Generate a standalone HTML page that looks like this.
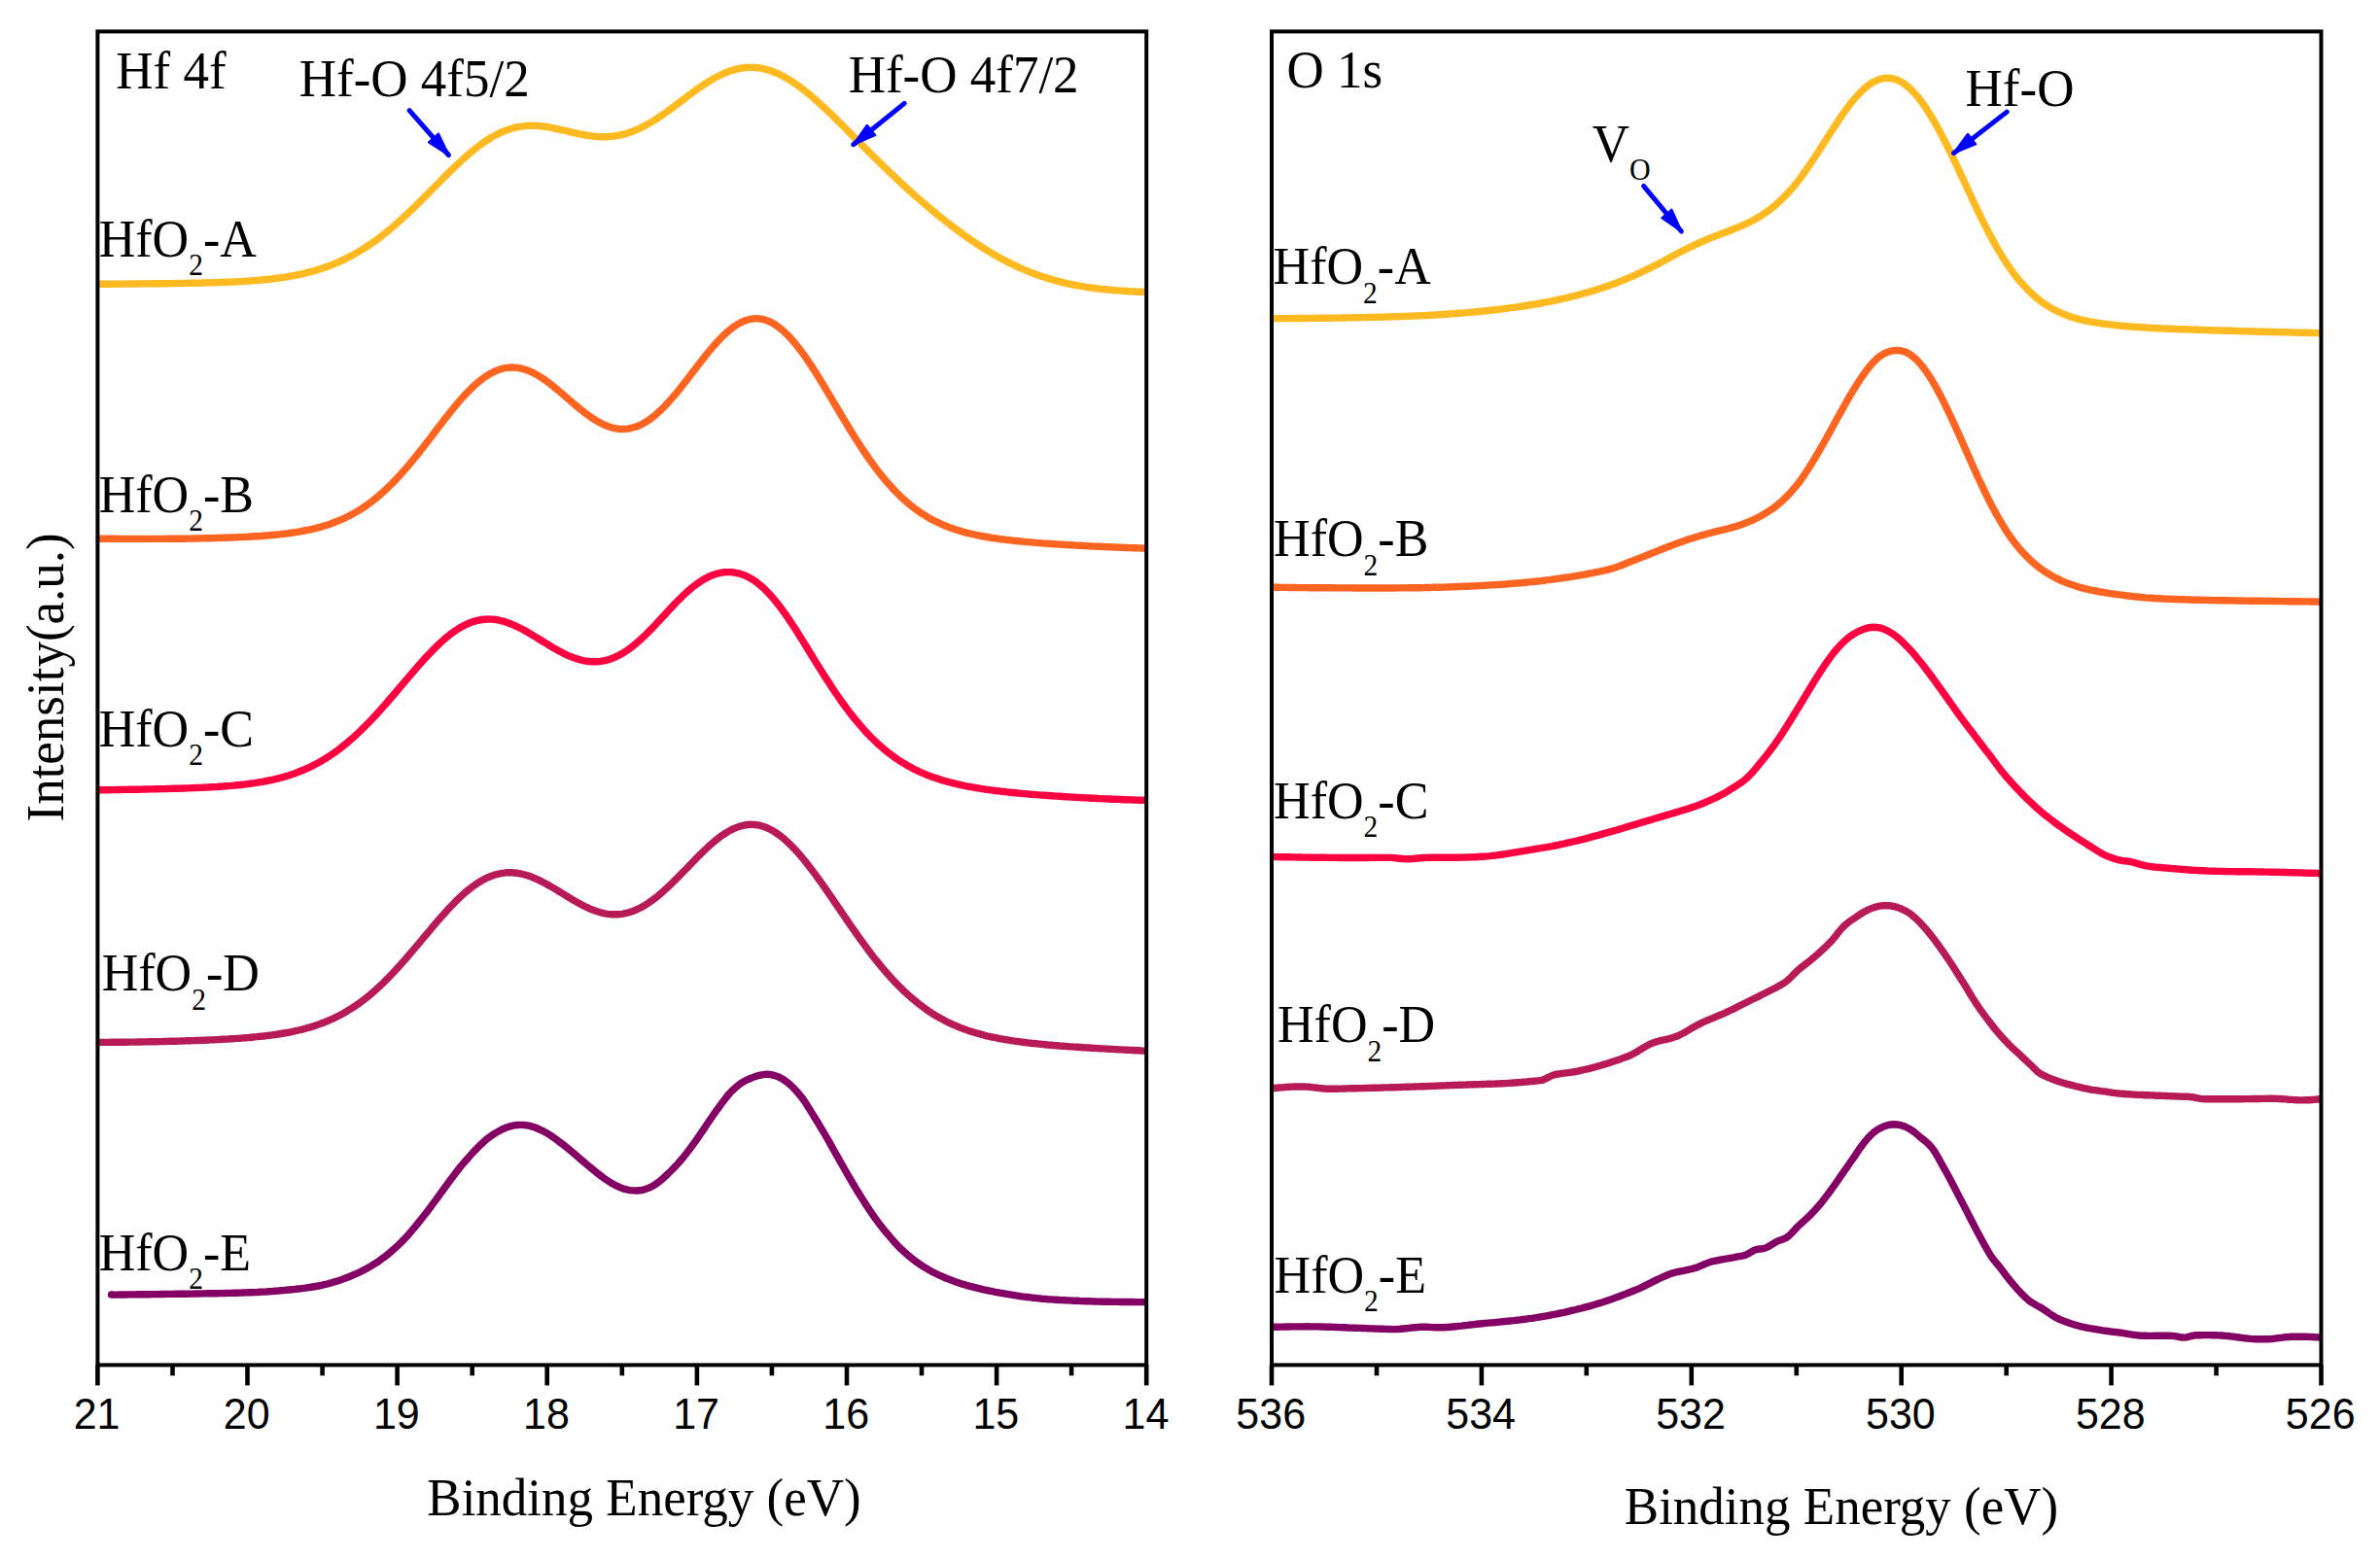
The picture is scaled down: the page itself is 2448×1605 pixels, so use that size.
<!DOCTYPE html>
<html lang="en"><head><meta charset="utf-8"><title>XPS spectra</title>
<style>html,body{margin:0;padding:0;background:#fff}svg{display:block}.s{font-family:"Liberation Serif","Times New Roman",serif;fill:#000}.a{font-family:"Liberation Sans",Arial,sans-serif;fill:#000;text-anchor:middle}</style></head><body>
<svg xmlns="http://www.w3.org/2000/svg" width="2448" height="1605" viewBox="0 0 2448 1605">
<rect width="2448" height="1605" fill="#fff"/>
<g fill="none" stroke-width="7.4" stroke-linejoin="round" stroke-linecap="butt">
<path d="M100.0,292.2 L103.0,292.2 L106.0,292.2 L109.0,292.2 L112.0,292.2 L115.0,292.2 L118.0,292.1 L121.0,292.1 L124.1,292.1 L127.1,292.1 L130.1,292.1 L133.1,292.0 L136.1,292.0 L139.1,292.0 L142.1,292.0 L145.1,291.9 L148.1,291.9 L151.1,291.9 L154.1,291.9 L157.1,291.8 L160.1,291.8 L163.1,291.8 L166.2,291.7 L169.2,291.7 L172.2,291.7 L175.2,291.6 L178.2,291.6 L181.2,291.5 L184.2,291.5 L187.2,291.4 L190.2,291.4 L193.2,291.4 L196.2,291.3 L199.2,291.2 L202.2,291.2 L205.2,291.1 L208.3,291.0 L211.3,291.0 L214.3,290.9 L217.3,290.8 L220.3,290.7 L223.3,290.6 L226.3,290.5 L229.3,290.4 L232.3,290.3 L235.3,290.2 L238.3,290.1 L241.3,289.9 L244.3,289.8 L247.3,289.6 L250.3,289.4 L253.4,289.3 L256.4,289.1 L259.4,288.8 L262.4,288.6 L265.4,288.4 L268.4,288.1 L271.4,287.8 L274.4,287.5 L277.4,287.2 L280.4,286.9 L283.4,286.5 L286.4,286.1 L289.4,285.7 L292.4,285.2 L295.5,284.8 L298.5,284.2 L301.5,283.7 L304.5,283.1 L307.5,282.5 L310.5,281.9 L313.5,281.2 L316.5,280.4 L319.5,279.6 L322.5,278.8 L325.5,277.9 L328.5,277.0 L331.5,276.0 L334.5,275.0 L337.6,273.9 L340.6,272.8 L343.6,271.6 L346.6,270.3 L349.6,269.0 L352.6,267.6 L355.6,266.2 L358.6,264.6 L361.6,263.1 L364.6,261.4 L367.6,259.7 L370.6,257.9 L373.6,256.1 L376.6,254.1 L379.6,252.1 L382.7,250.1 L385.7,247.9 L388.7,245.7 L391.7,243.5 L394.7,241.1 L397.7,238.7 L400.7,236.3 L403.7,233.7 L406.7,231.1 L409.7,228.5 L412.7,225.8 L415.7,223.0 L418.7,220.2 L421.7,217.4 L424.8,214.5 L427.8,211.6 L430.8,208.6 L433.8,205.6 L436.8,202.6 L439.8,199.6 L442.8,196.6 L445.8,193.5 L448.8,190.5 L451.8,187.5 L454.8,184.4 L457.8,181.4 L460.8,178.4 L463.8,175.5 L466.8,172.6 L469.9,169.7 L472.9,166.9 L475.9,164.1 L478.9,161.4 L481.9,158.8 L484.9,156.2 L487.9,153.8 L490.9,151.4 L493.9,149.1 L496.9,147.0 L499.9,144.9 L502.9,143.0 L505.9,141.1 L508.9,139.4 L512.0,137.9 L515.0,136.4 L518.0,135.1 L521.0,133.9 L524.0,132.9 L527.0,132.0 L530.0,131.2 L533.0,130.6 L536.0,130.1 L539.0,129.7 L542.0,129.4 L545.0,129.3 L548.0,129.3 L551.0,129.4 L554.1,129.6 L557.1,129.9 L560.1,130.2 L563.1,130.7 L566.1,131.2 L569.1,131.8 L572.1,132.4 L575.1,133.1 L578.1,133.8 L581.1,134.5 L584.1,135.2 L587.1,135.9 L590.1,136.6 L593.1,137.2 L596.1,137.9 L599.2,138.5 L602.2,139.0 L605.2,139.5 L608.2,139.9 L611.2,140.2 L614.2,140.5 L617.2,140.7 L620.2,140.7 L623.2,140.7 L626.2,140.5 L629.2,140.3 L632.2,139.9 L635.2,139.5 L638.2,138.9 L641.3,138.1 L644.3,137.3 L647.3,136.4 L650.3,135.3 L653.3,134.1 L656.3,132.8 L659.3,131.4 L662.3,129.9 L665.3,128.3 L668.3,126.6 L671.3,124.8 L674.3,122.9 L677.3,121.0 L680.3,118.9 L683.4,116.8 L686.4,114.7 L689.4,112.5 L692.4,110.3 L695.4,108.0 L698.4,105.8 L701.4,103.5 L704.4,101.2 L707.4,98.9 L710.4,96.7 L713.4,94.5 L716.4,92.3 L719.4,90.2 L722.4,88.1 L725.4,86.1 L728.5,84.2 L731.5,82.4 L734.5,80.6 L737.5,79.0 L740.5,77.5 L743.5,76.0 L746.5,74.7 L749.5,73.6 L752.5,72.6 L755.5,71.7 L758.5,70.9 L761.5,70.3 L764.5,69.8 L767.5,69.5 L770.6,69.4 L773.6,69.4 L776.6,69.5 L779.6,69.8 L782.6,70.2 L785.6,70.8 L788.6,71.6 L791.6,72.5 L794.6,73.5 L797.6,74.7 L800.6,76.0 L803.6,77.5 L806.6,79.1 L809.6,80.8 L812.7,82.6 L815.7,84.5 L818.7,86.6 L821.7,88.7 L824.7,91.0 L827.7,93.3 L830.7,95.7 L833.7,98.2 L836.7,100.8 L839.7,103.4 L842.7,106.1 L845.7,108.9 L848.7,111.7 L851.7,114.5 L854.7,117.4 L857.8,120.3 L860.8,123.3 L863.8,126.3 L866.8,129.2 L869.8,132.3 L872.8,135.3 L875.8,138.3 L878.8,141.3 L881.8,144.3 L884.8,147.4 L887.8,150.4 L890.8,153.4 L893.8,156.4 L896.8,159.4 L899.9,162.4 L902.9,165.3 L905.9,168.3 L908.9,171.2 L911.9,174.1 L914.9,177.0 L917.9,179.8 L920.9,182.7 L923.9,185.5 L926.9,188.3 L929.9,191.1 L932.9,193.8 L935.9,196.5 L938.9,199.2 L941.9,201.9 L945.0,204.5 L948.0,207.1 L951.0,209.7 L954.0,212.3 L957.0,214.8 L960.0,217.3 L963.0,219.8 L966.0,222.3 L969.0,224.7 L972.0,227.1 L975.0,229.4 L978.0,231.7 L981.0,234.0 L984.0,236.3 L987.1,238.5 L990.1,240.7 L993.1,242.9 L996.1,245.0 L999.1,247.1 L1002.1,249.1 L1005.1,251.1 L1008.1,253.1 L1011.1,255.0 L1014.1,256.9 L1017.1,258.7 L1020.1,260.5 L1023.1,262.3 L1026.1,264.0 L1029.2,265.7 L1032.2,267.3 L1035.2,268.9 L1038.2,270.4 L1041.2,271.9 L1044.2,273.3 L1047.2,274.7 L1050.2,276.1 L1053.2,277.4 L1056.2,278.6 L1059.2,279.9 L1062.2,281.0 L1065.2,282.2 L1068.2,283.2 L1071.2,284.3 L1074.3,285.3 L1077.3,286.2 L1080.3,287.1 L1083.3,288.0 L1086.3,288.8 L1089.3,289.6 L1092.3,290.4 L1095.3,291.1 L1098.3,291.8 L1101.3,292.4 L1104.3,293.0 L1107.3,293.6 L1110.3,294.2 L1113.3,294.7 L1116.4,295.2 L1119.4,295.6 L1122.4,296.0 L1125.4,296.5 L1128.4,296.8 L1131.4,297.2 L1134.4,297.5 L1137.4,297.8 L1140.4,298.1 L1143.4,298.4 L1146.4,298.7 L1149.4,298.9 L1152.4,299.1 L1155.4,299.3 L1158.5,299.5 L1161.5,299.7 L1164.5,299.9 L1167.5,300.0 L1170.5,300.2 L1173.5,300.3 L1176.5,300.4 L1179.5,300.5" stroke="#FFBA22"/>
<path d="M100.0,554.2 L103.0,554.2 L106.0,554.3 L109.0,554.3 L112.0,554.3 L115.0,554.3 L118.0,554.3 L121.0,554.4 L124.0,554.4 L127.0,554.4 L130.0,554.4 L133.0,554.4 L136.0,554.4 L139.0,554.4 L142.0,554.4 L145.0,554.4 L148.0,554.4 L151.0,554.4 L154.0,554.4 L157.0,554.4 L160.0,554.4 L163.0,554.4 L166.0,554.4 L169.0,554.4 L172.0,554.3 L175.0,554.3 L178.0,554.3 L181.0,554.3 L184.0,554.2 L187.0,554.2 L190.0,554.2 L193.0,554.1 L196.0,554.1 L199.0,554.0 L202.0,554.0 L205.0,553.9 L208.0,553.9 L211.0,553.8 L214.0,553.7 L217.0,553.7 L220.0,553.6 L223.0,553.5 L226.0,553.4 L229.0,553.3 L232.0,553.2 L235.0,553.1 L238.0,553.0 L241.0,552.9 L244.0,552.8 L247.0,552.6 L250.0,552.5 L253.0,552.4 L256.0,552.2 L259.0,552.0 L262.0,551.8 L265.0,551.7 L268.0,551.5 L271.0,551.2 L274.0,551.0 L277.0,550.8 L280.0,550.5 L283.0,550.2 L286.0,549.9 L289.0,549.6 L292.0,549.2 L295.0,548.9 L298.0,548.5 L301.0,548.0 L304.0,547.6 L307.0,547.1 L310.0,546.6 L313.0,546.0 L316.0,545.4 L319.0,544.8 L322.0,544.1 L325.0,543.4 L328.0,542.6 L331.0,541.8 L334.0,540.9 L337.0,539.9 L340.0,538.9 L343.0,537.8 L346.0,536.7 L349.0,535.4 L352.0,534.1 L355.0,532.8 L358.0,531.3 L361.0,529.8 L364.0,528.1 L367.0,526.4 L370.0,524.6 L373.0,522.6 L376.0,520.6 L379.0,518.5 L382.0,516.3 L385.0,513.9 L388.0,511.5 L391.0,508.9 L394.0,506.3 L397.0,503.5 L400.0,500.6 L403.0,497.7 L406.0,494.6 L409.0,491.4 L412.0,488.2 L415.0,484.8 L418.0,481.4 L421.0,477.8 L424.0,474.2 L427.0,470.5 L430.0,466.8 L433.0,463.0 L436.0,459.2 L439.0,455.3 L442.0,451.4 L445.0,447.5 L448.0,443.5 L451.0,439.6 L454.0,435.7 L457.0,431.8 L460.0,428.0 L463.0,424.2 L466.0,420.5 L469.0,416.9 L472.0,413.3 L475.0,409.9 L478.0,406.6 L481.0,403.4 L484.0,400.4 L487.0,397.5 L490.0,394.8 L493.0,392.2 L496.0,389.9 L499.0,387.7 L502.0,385.8 L505.0,384.0 L508.0,382.5 L511.0,381.2 L514.0,380.1 L517.0,379.2 L520.0,378.6 L523.0,378.2 L526.0,378.0 L529.0,378.1 L532.0,378.4 L535.0,378.9 L538.0,379.6 L541.0,380.5 L544.0,381.6 L547.0,382.9 L550.0,384.4 L553.0,386.1 L556.0,387.9 L559.0,389.9 L562.0,392.0 L565.0,394.2 L568.0,396.6 L571.0,399.0 L574.0,401.5 L577.0,404.0 L580.0,406.6 L583.0,409.2 L586.0,411.8 L589.0,414.3 L592.0,416.9 L595.0,419.4 L598.0,421.9 L601.0,424.2 L604.0,426.5 L607.0,428.6 L610.0,430.7 L613.0,432.6 L616.0,434.3 L619.0,435.9 L622.0,437.3 L625.0,438.5 L628.0,439.5 L631.0,440.3 L634.0,440.9 L637.0,441.3 L640.0,441.5 L643.0,441.4 L646.0,441.1 L649.0,440.5 L652.0,439.7 L655.0,438.7 L658.0,437.5 L661.0,436.0 L664.0,434.3 L667.0,432.4 L670.0,430.2 L673.0,427.9 L676.0,425.3 L679.0,422.6 L682.0,419.6 L685.0,416.6 L688.0,413.3 L691.0,409.9 L694.0,406.4 L697.0,402.8 L700.0,399.1 L703.0,395.3 L706.0,391.4 L709.0,387.5 L712.0,383.6 L715.0,379.7 L718.0,375.8 L721.0,371.9 L724.0,368.1 L727.0,364.3 L730.0,360.6 L733.0,357.1 L736.0,353.7 L739.0,350.4 L742.0,347.3 L745.0,344.3 L748.0,341.6 L751.0,339.1 L754.0,336.8 L757.0,334.7 L760.0,332.9 L763.0,331.3 L766.0,330.0 L769.0,329.0 L772.0,328.3 L775.0,327.9 L778.0,327.8 L781.0,327.9 L784.0,328.4 L787.0,329.2 L790.0,330.2 L793.0,331.6 L796.0,333.2 L799.0,335.2 L802.0,337.4 L805.0,339.9 L808.0,342.6 L811.0,345.6 L814.0,348.9 L817.0,352.3 L820.0,356.0 L823.0,359.9 L826.0,363.9 L829.0,368.2 L832.0,372.6 L835.0,377.1 L838.0,381.7 L841.0,386.5 L844.0,391.4 L847.0,396.3 L850.0,401.3 L853.0,406.3 L856.0,411.3 L859.0,416.4 L862.0,421.5 L865.0,426.5 L868.0,431.6 L871.0,436.5 L874.0,441.5 L877.0,446.3 L880.0,451.1 L883.0,455.8 L886.0,460.4 L889.0,464.9 L892.0,469.4 L895.0,473.6 L898.0,477.8 L901.0,481.9 L904.0,485.8 L907.0,489.6 L910.0,493.2 L913.0,496.8 L916.0,500.1 L919.0,503.4 L922.0,506.5 L925.0,509.5 L928.0,512.4 L931.0,515.1 L934.0,517.7 L937.0,520.1 L940.0,522.5 L943.0,524.7 L946.0,526.8 L949.0,528.8 L952.0,530.7 L955.0,532.5 L958.0,534.2 L961.0,535.7 L964.0,537.2 L967.0,538.6 L970.0,540.0 L973.0,541.2 L976.0,542.4 L979.0,543.5 L982.0,544.5 L985.0,545.5 L988.0,546.4 L991.0,547.3 L994.0,548.1 L997.0,548.8 L1000.0,549.5 L1003.0,550.2 L1006.0,550.8 L1009.0,551.4 L1012.0,552.0 L1015.0,552.5 L1018.0,553.0 L1021.0,553.5 L1024.0,553.9 L1027.0,554.3 L1030.0,554.8 L1033.0,555.1 L1036.0,555.5 L1039.0,555.8 L1042.0,556.2 L1045.0,556.5 L1048.0,556.8 L1051.0,557.1 L1054.0,557.4 L1057.0,557.6 L1060.0,557.9 L1063.0,558.1 L1066.0,558.4 L1069.0,558.6 L1072.0,558.9 L1075.0,559.1 L1078.0,559.3 L1081.0,559.5 L1084.0,559.7 L1087.0,559.9 L1090.0,560.1 L1093.0,560.3 L1096.0,560.5 L1099.0,560.6 L1102.0,560.8 L1105.0,561.0 L1108.0,561.1 L1111.0,561.3 L1114.0,561.5 L1117.0,561.6 L1120.0,561.8 L1123.0,561.9 L1126.0,562.1 L1129.0,562.2 L1132.0,562.3 L1135.0,562.5 L1138.0,562.6 L1141.0,562.7 L1144.0,562.9 L1147.0,563.0 L1150.0,563.1 L1153.0,563.2 L1156.0,563.4 L1159.0,563.5 L1162.0,563.6 L1165.0,563.7 L1168.0,563.8 L1171.0,563.9 L1174.0,564.0 L1177.0,564.1 L1180.0,564.2" stroke="#FF6420"/>
<path d="M100.0,812.8 L103.0,812.8 L106.0,812.7 L109.0,812.7 L112.0,812.7 L115.0,812.6 L118.0,812.6 L121.0,812.5 L124.0,812.5 L127.0,812.4 L130.0,812.4 L133.0,812.3 L136.0,812.3 L139.0,812.2 L142.0,812.2 L145.0,812.1 L148.0,812.0 L151.0,812.0 L154.0,811.9 L157.0,811.9 L160.0,811.8 L163.0,811.7 L166.0,811.6 L169.0,811.6 L172.0,811.5 L175.0,811.4 L178.0,811.3 L181.0,811.3 L184.0,811.2 L187.0,811.1 L190.0,811.0 L193.0,810.9 L196.0,810.8 L199.0,810.6 L202.0,810.5 L205.0,810.4 L208.0,810.3 L211.0,810.1 L214.0,810.0 L217.0,809.8 L220.0,809.6 L223.0,809.5 L226.0,809.3 L229.0,809.1 L232.0,808.8 L235.0,808.6 L238.0,808.4 L241.0,808.1 L244.0,807.8 L247.0,807.5 L250.0,807.2 L253.0,806.8 L256.0,806.4 L259.0,806.0 L262.0,805.6 L265.0,805.1 L268.0,804.6 L271.0,804.1 L274.0,803.5 L277.0,802.9 L280.0,802.3 L283.0,801.6 L286.0,800.9 L289.0,800.1 L292.0,799.3 L295.0,798.4 L298.0,797.4 L301.0,796.4 L304.0,795.4 L307.0,794.2 L310.0,793.0 L313.0,791.8 L316.0,790.5 L319.0,789.1 L322.0,787.6 L325.0,786.0 L328.0,784.4 L331.0,782.7 L334.0,780.9 L337.0,779.0 L340.0,777.0 L343.0,775.0 L346.0,772.9 L349.0,770.6 L352.0,768.3 L355.0,765.9 L358.0,763.4 L361.0,760.8 L364.0,758.2 L367.0,755.4 L370.0,752.6 L373.0,749.7 L376.0,746.7 L379.0,743.7 L382.0,740.5 L385.0,737.3 L388.0,734.1 L391.0,730.8 L394.0,727.4 L397.0,724.0 L400.0,720.5 L403.0,717.0 L406.0,713.5 L409.0,710.0 L412.0,706.4 L415.0,702.9 L418.0,699.3 L421.0,695.8 L424.0,692.3 L427.0,688.8 L430.0,685.4 L433.0,682.0 L436.0,678.6 L439.0,675.4 L442.0,672.2 L445.0,669.1 L448.0,666.1 L451.0,663.2 L454.0,660.4 L457.0,657.7 L460.0,655.2 L463.0,652.8 L466.0,650.6 L469.0,648.5 L472.0,646.5 L475.0,644.8 L478.0,643.2 L481.0,641.8 L484.0,640.5 L487.0,639.5 L490.0,638.6 L493.0,638.0 L496.0,637.5 L499.0,637.2 L502.0,637.0 L505.0,637.1 L508.0,637.3 L511.0,637.7 L514.0,638.3 L517.0,639.0 L520.0,639.9 L523.0,640.9 L526.0,642.1 L529.0,643.4 L532.0,644.8 L535.0,646.3 L538.0,647.8 L541.0,649.5 L544.0,651.2 L547.0,653.0 L550.0,654.8 L553.0,656.6 L556.0,658.5 L559.0,660.4 L562.0,662.2 L565.0,664.0 L568.0,665.8 L571.0,667.6 L574.0,669.2 L577.0,670.8 L580.0,672.4 L583.0,673.8 L586.0,675.1 L589.0,676.3 L592.0,677.4 L595.0,678.3 L598.0,679.1 L601.0,679.8 L604.0,680.3 L607.0,680.6 L610.0,680.8 L613.0,680.7 L616.0,680.6 L619.0,680.2 L622.0,679.6 L625.0,678.9 L628.0,677.9 L631.0,676.8 L634.0,675.5 L637.0,674.0 L640.0,672.3 L643.0,670.5 L646.0,668.5 L649.0,666.3 L652.0,663.9 L655.0,661.4 L658.0,658.8 L661.0,656.0 L664.0,653.2 L667.0,650.2 L670.0,647.1 L673.0,644.0 L676.0,640.8 L679.0,637.6 L682.0,634.3 L685.0,631.1 L688.0,627.8 L691.0,624.6 L694.0,621.4 L697.0,618.3 L700.0,615.3 L703.0,612.4 L706.0,609.6 L709.0,607.0 L712.0,604.4 L715.0,602.1 L718.0,599.9 L721.0,597.9 L724.0,596.0 L727.0,594.4 L730.0,592.9 L733.0,591.7 L736.0,590.6 L739.0,589.8 L742.0,589.2 L745.0,588.8 L748.0,588.6 L751.0,588.6 L754.0,588.8 L757.0,589.3 L760.0,589.9 L763.0,590.9 L766.0,592.0 L769.0,593.4 L772.0,595.0 L775.0,596.8 L778.0,598.9 L781.0,601.3 L784.0,603.8 L787.0,606.6 L790.0,609.7 L793.0,612.9 L796.0,616.4 L799.0,620.1 L802.0,623.9 L805.0,628.0 L808.0,632.2 L811.0,636.6 L814.0,641.0 L817.0,645.6 L820.0,650.3 L823.0,655.1 L826.0,659.9 L829.0,664.7 L832.0,669.6 L835.0,674.5 L838.0,679.4 L841.0,684.2 L844.0,689.0 L847.0,693.8 L850.0,698.5 L853.0,703.1 L856.0,707.7 L859.0,712.2 L862.0,716.5 L865.0,720.8 L868.0,725.0 L871.0,729.1 L874.0,733.1 L877.0,736.9 L880.0,740.6 L883.0,744.2 L886.0,747.7 L889.0,751.1 L892.0,754.4 L895.0,757.5 L898.0,760.5 L901.0,763.4 L904.0,766.2 L907.0,768.8 L910.0,771.4 L913.0,773.8 L916.0,776.1 L919.0,778.4 L922.0,780.5 L925.0,782.5 L928.0,784.4 L931.0,786.2 L934.0,788.0 L937.0,789.6 L940.0,791.2 L943.0,792.7 L946.0,794.1 L949.0,795.4 L952.0,796.7 L955.0,797.9 L958.0,799.0 L961.0,800.1 L964.0,801.1 L967.0,802.1 L970.0,803.0 L973.0,803.8 L976.0,804.7 L979.0,805.4 L982.0,806.2 L985.0,806.9 L988.0,807.5 L991.0,808.2 L994.0,808.8 L997.0,809.3 L1000.0,809.9 L1003.0,810.4 L1006.0,810.9 L1009.0,811.4 L1012.0,811.8 L1015.0,812.3 L1018.0,812.7 L1021.0,813.1 L1024.0,813.5 L1027.0,813.8 L1030.0,814.2 L1033.0,814.5 L1036.0,814.9 L1039.0,815.2 L1042.0,815.5 L1045.0,815.8 L1048.0,816.1 L1051.0,816.4 L1054.0,816.6 L1057.0,816.9 L1060.0,817.2 L1063.0,817.4 L1066.0,817.6 L1069.0,817.9 L1072.0,818.1 L1075.0,818.3 L1078.0,818.5 L1081.0,818.7 L1084.0,818.9 L1087.0,819.1 L1090.0,819.3 L1093.0,819.5 L1096.0,819.7 L1099.0,819.9 L1102.0,820.1 L1105.0,820.2 L1108.0,820.4 L1111.0,820.6 L1114.0,820.7 L1117.0,820.9 L1120.0,821.0 L1123.0,821.2 L1126.0,821.3 L1129.0,821.5 L1132.0,821.6 L1135.0,821.8 L1138.0,821.9 L1141.0,822.0 L1144.0,822.2 L1147.0,822.3 L1150.0,822.4 L1153.0,822.5 L1156.0,822.7 L1159.0,822.8 L1162.0,822.9 L1165.0,823.0 L1168.0,823.1 L1171.0,823.2 L1174.0,823.3 L1177.0,823.4 L1180.0,823.5" stroke="#FF0040"/>
<path d="M100.0,1072.5 L103.0,1072.4 L106.0,1072.4 L109.0,1072.4 L112.0,1072.4 L115.0,1072.3 L118.0,1072.3 L121.0,1072.3 L124.0,1072.3 L127.0,1072.2 L130.0,1072.2 L133.0,1072.1 L136.0,1072.1 L139.0,1072.1 L142.0,1072.0 L145.0,1072.0 L148.0,1071.9 L151.0,1071.9 L154.0,1071.8 L157.0,1071.7 L160.0,1071.7 L163.0,1071.6 L166.0,1071.6 L169.0,1071.5 L172.0,1071.4 L175.0,1071.3 L178.0,1071.3 L181.0,1071.2 L184.0,1071.1 L187.0,1071.0 L190.0,1070.9 L193.0,1070.8 L196.0,1070.7 L199.0,1070.6 L202.0,1070.5 L205.0,1070.4 L208.0,1070.3 L211.0,1070.2 L214.0,1070.0 L217.0,1069.9 L220.0,1069.8 L223.0,1069.6 L226.0,1069.5 L229.0,1069.3 L232.0,1069.1 L235.0,1069.0 L238.0,1068.8 L241.0,1068.6 L244.0,1068.4 L247.0,1068.2 L250.0,1067.9 L253.0,1067.7 L256.0,1067.5 L259.0,1067.2 L262.0,1066.9 L265.0,1066.6 L268.0,1066.3 L271.0,1066.0 L274.0,1065.6 L277.0,1065.3 L280.0,1064.9 L283.0,1064.5 L286.0,1064.0 L289.0,1063.5 L292.0,1063.0 L295.0,1062.5 L298.0,1062.0 L301.0,1061.4 L304.0,1060.7 L307.0,1060.0 L310.0,1059.3 L313.0,1058.5 L316.0,1057.7 L319.0,1056.9 L322.0,1055.9 L325.0,1055.0 L328.0,1053.9 L331.0,1052.8 L334.0,1051.7 L337.0,1050.4 L340.0,1049.1 L343.0,1047.8 L346.0,1046.3 L349.0,1044.8 L352.0,1043.2 L355.0,1041.5 L358.0,1039.7 L361.0,1037.9 L364.0,1035.9 L367.0,1033.9 L370.0,1031.7 L373.0,1029.5 L376.0,1027.2 L379.0,1024.8 L382.0,1022.3 L385.0,1019.7 L388.0,1017.0 L391.0,1014.2 L394.0,1011.4 L397.0,1008.4 L400.0,1005.4 L403.0,1002.3 L406.0,999.1 L409.0,995.8 L412.0,992.5 L415.0,989.1 L418.0,985.7 L421.0,982.2 L424.0,978.7 L427.0,975.2 L430.0,971.6 L433.0,968.0 L436.0,964.4 L439.0,960.8 L442.0,957.3 L445.0,953.7 L448.0,950.2 L451.0,946.7 L454.0,943.2 L457.0,939.9 L460.0,936.6 L463.0,933.3 L466.0,930.2 L469.0,927.2 L472.0,924.2 L475.0,921.4 L478.0,918.7 L481.0,916.2 L484.0,913.8 L487.0,911.5 L490.0,909.4 L493.0,907.5 L496.0,905.7 L499.0,904.1 L502.0,902.7 L505.0,901.5 L508.0,900.4 L511.0,899.5 L514.0,898.8 L517.0,898.3 L520.0,897.9 L523.0,897.8 L526.0,897.8 L529.0,898.0 L532.0,898.3 L535.0,898.8 L538.0,899.5 L541.0,900.3 L544.0,901.3 L547.0,902.3 L550.0,903.6 L553.0,904.9 L556.0,906.3 L559.0,907.9 L562.0,909.5 L565.0,911.2 L568.0,912.9 L571.0,914.7 L574.0,916.5 L577.0,918.4 L580.0,920.2 L583.0,922.0 L586.0,923.9 L589.0,925.7 L592.0,927.4 L595.0,929.1 L598.0,930.7 L601.0,932.3 L604.0,933.7 L607.0,935.1 L610.0,936.3 L613.0,937.4 L616.0,938.3 L619.0,939.2 L622.0,939.8 L625.0,940.3 L628.0,940.7 L631.0,940.8 L634.0,940.8 L637.0,940.7 L640.0,940.3 L643.0,939.7 L646.0,939.0 L649.0,938.1 L652.0,937.0 L655.0,935.8 L658.0,934.3 L661.0,932.7 L664.0,931.0 L667.0,929.0 L670.0,926.9 L673.0,924.7 L676.0,922.4 L679.0,919.9 L682.0,917.3 L685.0,914.6 L688.0,911.8 L691.0,908.9 L694.0,905.9 L697.0,902.9 L700.0,899.9 L703.0,896.8 L706.0,893.7 L709.0,890.6 L712.0,887.5 L715.0,884.4 L718.0,881.3 L721.0,878.3 L724.0,875.4 L727.0,872.6 L730.0,869.8 L733.0,867.2 L736.0,864.7 L739.0,862.3 L742.0,860.1 L745.0,858.0 L748.0,856.1 L751.0,854.4 L754.0,852.9 L757.0,851.6 L760.0,850.5 L763.0,849.6 L766.0,849.0 L769.0,848.5 L772.0,848.3 L775.0,848.4 L778.0,848.7 L781.0,849.2 L784.0,850.0 L787.0,851.0 L790.0,852.2 L793.0,853.7 L796.0,855.4 L799.0,857.4 L802.0,859.5 L805.0,861.9 L808.0,864.4 L811.0,867.2 L814.0,870.1 L817.0,873.2 L820.0,876.5 L823.0,879.9 L826.0,883.5 L829.0,887.2 L832.0,891.0 L835.0,894.9 L838.0,898.9 L841.0,903.0 L844.0,907.2 L847.0,911.4 L850.0,915.7 L853.0,920.1 L856.0,924.4 L859.0,928.8 L862.0,933.2 L865.0,937.6 L868.0,942.0 L871.0,946.4 L874.0,950.8 L877.0,955.1 L880.0,959.4 L883.0,963.6 L886.0,967.8 L889.0,971.9 L892.0,976.0 L895.0,980.0 L898.0,983.9 L901.0,987.7 L904.0,991.4 L907.0,995.1 L910.0,998.6 L913.0,1002.1 L916.0,1005.4 L919.0,1008.7 L922.0,1011.9 L925.0,1014.9 L928.0,1017.9 L931.0,1020.8 L934.0,1023.5 L937.0,1026.2 L940.0,1028.7 L943.0,1031.2 L946.0,1033.6 L949.0,1035.8 L952.0,1038.0 L955.0,1040.1 L958.0,1042.1 L961.0,1044.0 L964.0,1045.8 L967.0,1047.5 L970.0,1049.1 L973.0,1050.7 L976.0,1052.2 L979.0,1053.6 L982.0,1054.9 L985.0,1056.2 L988.0,1057.4 L991.0,1058.5 L994.0,1059.6 L997.0,1060.7 L1000.0,1061.6 L1003.0,1062.5 L1006.0,1063.4 L1009.0,1064.2 L1012.0,1065.0 L1015.0,1065.8 L1018.0,1066.5 L1021.0,1067.1 L1024.0,1067.7 L1027.0,1068.3 L1030.0,1068.9 L1033.0,1069.4 L1036.0,1069.9 L1039.0,1070.4 L1042.0,1070.9 L1045.0,1071.3 L1048.0,1071.7 L1051.0,1072.1 L1054.0,1072.5 L1057.0,1072.9 L1060.0,1073.2 L1063.0,1073.5 L1066.0,1073.8 L1069.0,1074.1 L1072.0,1074.4 L1075.0,1074.7 L1078.0,1075.0 L1081.0,1075.2 L1084.0,1075.5 L1087.0,1075.7 L1090.0,1076.0 L1093.0,1076.2 L1096.0,1076.4 L1099.0,1076.7 L1102.0,1076.9 L1105.0,1077.1 L1108.0,1077.3 L1111.0,1077.5 L1114.0,1077.7 L1117.0,1077.9 L1120.0,1078.0 L1123.0,1078.2 L1126.0,1078.4 L1129.0,1078.6 L1132.0,1078.8 L1135.0,1078.9 L1138.0,1079.1 L1141.0,1079.3 L1144.0,1079.4 L1147.0,1079.6 L1150.0,1079.8 L1153.0,1079.9 L1156.0,1080.1 L1159.0,1080.2 L1162.0,1080.4 L1165.0,1080.5 L1168.0,1080.7 L1171.0,1080.8 L1174.0,1081.0 L1177.0,1081.1 L1180.0,1081.3" stroke="#B81A58"/>
<path d="M114.5,1332.1 L117.5,1332.1 L120.5,1332.1 L123.5,1332.0 L126.5,1332.0 L129.5,1332.0 L132.5,1331.9 L135.5,1331.9 L138.5,1331.9 L141.5,1331.8 L144.5,1331.8 L147.5,1331.8 L150.5,1331.7 L153.5,1331.7 L156.5,1331.6 L159.5,1331.6 L162.5,1331.6 L165.5,1331.5 L168.5,1331.5 L171.5,1331.4 L174.5,1331.4 L177.5,1331.4 L180.5,1331.3 L183.5,1331.3 L186.5,1331.2 L189.5,1331.2 L192.5,1331.2 L195.5,1331.1 L198.5,1331.1 L201.5,1331.0 L204.5,1331.0 L207.5,1330.9 L210.5,1330.9 L213.5,1330.8 L216.5,1330.8 L219.5,1330.7 L222.6,1330.7 L225.6,1330.6 L228.6,1330.6 L231.6,1330.5 L234.6,1330.4 L237.6,1330.4 L240.6,1330.3 L243.6,1330.2 L246.6,1330.1 L249.6,1330.0 L252.6,1329.9 L255.6,1329.8 L258.6,1329.7 L261.6,1329.6 L264.6,1329.5 L267.6,1329.3 L270.6,1329.1 L273.6,1329.0 L276.6,1328.8 L279.6,1328.6 L282.6,1328.3 L285.6,1328.1 L288.6,1327.8 L291.6,1327.6 L294.6,1327.3 L297.6,1327.0 L300.6,1326.7 L303.6,1326.4 L306.6,1326.0 L309.6,1325.7 L312.6,1325.3 L315.6,1324.9 L318.6,1324.5 L321.6,1324.0 L324.6,1323.5 L327.6,1323.0 L330.6,1322.4 L333.6,1321.7 L336.6,1321.0 L339.6,1320.2 L342.6,1319.3 L345.6,1318.4 L348.6,1317.4 L351.6,1316.4 L354.6,1315.3 L357.6,1314.2 L360.6,1313.0 L363.6,1311.7 L366.6,1310.4 L369.6,1309.0 L372.6,1307.5 L375.6,1305.9 L378.6,1304.3 L381.6,1302.6 L384.6,1300.7 L387.6,1298.8 L390.6,1296.8 L393.6,1294.6 L396.6,1292.4 L399.6,1290.0 L402.6,1287.4 L405.6,1284.8 L408.6,1282.1 L411.6,1279.2 L414.6,1276.1 L417.6,1273.0 L420.6,1269.7 L423.6,1266.2 L426.6,1262.6 L429.6,1258.9 L432.6,1255.2 L435.7,1251.3 L438.7,1247.4 L441.7,1243.5 L444.7,1239.4 L447.7,1235.4 L450.7,1231.3 L453.7,1227.1 L456.7,1223.0 L459.7,1218.8 L462.7,1214.7 L465.7,1210.7 L468.7,1206.7 L471.7,1202.9 L474.7,1199.2 L477.7,1195.7 L480.7,1192.3 L483.7,1188.9 L486.7,1185.6 L489.7,1182.4 L492.7,1179.4 L495.7,1176.5 L498.7,1173.7 L501.7,1171.2 L504.7,1169.0 L507.7,1166.9 L510.7,1165.1 L513.7,1163.4 L516.7,1161.8 L519.7,1160.5 L522.7,1159.4 L525.7,1158.6 L528.7,1157.9 L531.7,1157.5 L534.7,1157.4 L537.7,1157.4 L540.7,1157.7 L543.7,1158.2 L546.7,1158.9 L549.7,1159.8 L552.7,1161.0 L555.7,1162.3 L558.7,1163.7 L561.7,1165.4 L564.7,1167.2 L567.7,1169.1 L570.7,1171.2 L573.7,1173.4 L576.7,1175.7 L579.7,1178.0 L582.7,1180.4 L585.7,1182.9 L588.7,1185.4 L591.7,1187.9 L594.7,1190.5 L597.7,1193.1 L600.7,1195.6 L603.7,1198.2 L606.7,1200.7 L609.7,1203.2 L612.7,1205.6 L615.7,1208.0 L618.7,1210.3 L621.7,1212.5 L624.7,1214.5 L627.7,1216.5 L630.7,1218.2 L633.7,1219.8 L636.7,1221.2 L639.7,1222.4 L642.7,1223.4 L645.7,1224.1 L648.8,1224.6 L651.8,1224.9 L654.8,1225.0 L657.8,1224.8 L660.8,1224.3 L663.8,1223.5 L666.8,1222.4 L669.8,1221.1 L672.8,1219.4 L675.8,1217.4 L678.8,1215.1 L681.8,1212.6 L684.8,1209.8 L687.8,1207.0 L690.8,1204.0 L693.8,1200.9 L696.8,1197.7 L699.8,1194.3 L702.8,1190.8 L705.8,1187.0 L708.8,1183.1 L711.8,1179.0 L714.8,1174.8 L717.8,1170.6 L720.8,1166.2 L723.8,1161.8 L726.8,1157.3 L729.8,1152.9 L732.8,1148.5 L735.8,1144.2 L738.8,1140.0 L741.8,1135.8 L744.8,1131.9 L747.8,1128.0 L750.8,1124.5 L753.8,1121.4 L756.8,1118.7 L759.8,1116.3 L762.8,1114.1 L765.8,1112.3 L768.8,1110.8 L771.8,1109.5 L774.8,1108.4 L777.8,1107.3 L780.8,1106.4 L783.8,1105.8 L786.8,1105.4 L789.8,1105.3 L792.8,1105.6 L795.8,1106.3 L798.8,1107.2 L801.8,1108.5 L804.8,1110.1 L807.8,1112.1 L810.8,1114.4 L813.8,1117.0 L816.8,1120.0 L819.8,1123.2 L822.8,1126.8 L825.8,1130.6 L828.8,1135.0 L831.8,1139.7 L834.8,1144.6 L837.8,1149.5 L840.8,1154.3 L843.8,1159.3 L846.8,1164.3 L849.8,1169.5 L852.8,1174.7 L855.8,1180.1 L858.8,1185.5 L861.9,1190.9 L864.9,1196.2 L867.9,1201.5 L870.9,1206.8 L873.9,1211.9 L876.9,1217.0 L879.9,1222.1 L882.9,1227.0 L885.9,1231.9 L888.9,1236.6 L891.9,1241.3 L894.9,1245.8 L897.9,1250.1 L900.9,1254.3 L903.9,1258.4 L906.9,1262.3 L909.9,1266.1 L912.9,1269.7 L915.9,1273.2 L918.9,1276.7 L921.9,1280.0 L924.9,1283.1 L927.9,1286.1 L930.9,1288.8 L933.9,1291.4 L936.9,1293.9 L939.9,1296.3 L942.9,1298.5 L945.9,1300.6 L948.9,1302.6 L951.9,1304.4 L954.9,1306.2 L957.9,1307.9 L960.9,1309.5 L963.9,1311.0 L966.9,1312.4 L969.9,1313.7 L972.9,1315.0 L975.9,1316.1 L978.9,1317.3 L981.9,1318.4 L984.9,1319.4 L987.9,1320.4 L990.9,1321.4 L993.9,1322.3 L996.9,1323.1 L999.9,1323.9 L1002.9,1324.7 L1005.9,1325.4 L1008.9,1326.1 L1011.9,1326.8 L1014.9,1327.5 L1017.9,1328.1 L1020.9,1328.7 L1023.9,1329.3 L1026.9,1329.8 L1029.9,1330.4 L1032.9,1330.9 L1035.9,1331.4 L1038.9,1331.9 L1041.9,1332.4 L1044.9,1332.9 L1047.9,1333.3 L1050.9,1333.8 L1053.9,1334.2 L1056.9,1334.5 L1059.9,1334.9 L1062.9,1335.3 L1065.9,1335.6 L1068.9,1335.9 L1071.9,1336.2 L1075.0,1336.4 L1078.0,1336.7 L1081.0,1336.9 L1084.0,1337.1 L1087.0,1337.3 L1090.0,1337.5 L1093.0,1337.6 L1096.0,1337.8 L1099.0,1337.9 L1102.0,1338.1 L1105.0,1338.2 L1108.0,1338.3 L1111.0,1338.5 L1114.0,1338.6 L1117.0,1338.7 L1120.0,1338.8 L1123.0,1338.9 L1126.0,1339.0 L1129.0,1339.1 L1132.0,1339.1 L1135.0,1339.2 L1138.0,1339.3 L1141.0,1339.3 L1144.0,1339.4 L1147.0,1339.4 L1150.0,1339.4 L1153.0,1339.5 L1156.0,1339.5 L1159.0,1339.5 L1162.0,1339.5 L1165.0,1339.5 L1168.0,1339.6 L1171.0,1339.6 L1174.0,1339.6 L1177.0,1339.6 L1180.0,1339.6" stroke="#840064"/>
<circle cx="114.5" cy="1331.9" r="3.7" fill="#840064" stroke="none"/>
</g>
<g fill="none" stroke-width="7.4" stroke-linejoin="round" stroke-linecap="butt">
<path d="M1308.1,327.6 L1311.1,327.6 L1314.1,327.6 L1317.1,327.6 L1320.1,327.6 L1323.1,327.6 L1326.1,327.6 L1329.1,327.5 L1332.1,327.5 L1335.1,327.5 L1338.2,327.5 L1341.2,327.5 L1344.2,327.4 L1347.2,327.4 L1350.2,327.4 L1353.2,327.4 L1356.2,327.3 L1359.2,327.3 L1362.2,327.3 L1365.2,327.2 L1368.2,327.2 L1371.2,327.1 L1374.2,327.1 L1377.2,327.1 L1380.2,327.0 L1383.2,327.0 L1386.2,326.9 L1389.2,326.9 L1392.2,326.8 L1395.3,326.8 L1398.3,326.7 L1401.3,326.6 L1404.3,326.6 L1407.3,326.5 L1410.3,326.4 L1413.3,326.4 L1416.3,326.3 L1419.3,326.2 L1422.3,326.1 L1425.3,326.1 L1428.3,326.0 L1431.3,325.9 L1434.3,325.8 L1437.3,325.7 L1440.3,325.6 L1443.3,325.5 L1446.3,325.4 L1449.3,325.3 L1452.4,325.1 L1455.4,325.0 L1458.4,324.9 L1461.4,324.7 L1464.4,324.6 L1467.4,324.5 L1470.4,324.3 L1473.4,324.1 L1476.4,324.0 L1479.4,323.8 L1482.4,323.6 L1485.4,323.4 L1488.4,323.2 L1491.4,323.0 L1494.4,322.8 L1497.4,322.6 L1500.4,322.3 L1503.4,322.1 L1506.4,321.9 L1509.5,321.6 L1512.5,321.3 L1515.5,321.1 L1518.5,320.8 L1521.5,320.5 L1524.5,320.2 L1527.5,319.8 L1530.5,319.5 L1533.5,319.2 L1536.5,318.9 L1539.5,318.5 L1542.5,318.2 L1545.5,317.8 L1548.5,317.4 L1551.5,317.1 L1554.5,316.7 L1557.5,316.3 L1560.5,315.8 L1563.5,315.4 L1566.6,315.0 L1569.6,314.5 L1572.6,314.0 L1575.6,313.5 L1578.6,313.0 L1581.6,312.5 L1584.6,312.0 L1587.6,311.4 L1590.6,310.9 L1593.6,310.3 L1596.6,309.7 L1599.6,309.0 L1602.6,308.4 L1605.6,307.7 L1608.6,307.0 L1611.6,306.3 L1614.6,305.6 L1617.6,304.9 L1620.7,304.1 L1623.7,303.3 L1626.7,302.5 L1629.7,301.7 L1632.7,300.9 L1635.7,300.0 L1638.7,299.1 L1641.7,298.2 L1644.7,297.2 L1647.7,296.3 L1650.7,295.3 L1653.7,294.2 L1656.7,293.2 L1659.7,292.1 L1662.7,291.0 L1665.7,289.8 L1668.7,288.6 L1671.7,287.4 L1674.7,286.1 L1677.8,284.8 L1680.8,283.5 L1683.8,282.1 L1686.8,280.7 L1689.8,279.3 L1692.8,277.9 L1695.8,276.4 L1698.8,274.9 L1701.8,273.4 L1704.8,271.9 L1707.8,270.3 L1710.8,268.7 L1713.8,267.1 L1716.8,265.5 L1719.8,263.8 L1722.8,262.2 L1725.8,260.6 L1728.8,259.0 L1731.8,257.5 L1734.9,256.0 L1737.9,254.5 L1740.9,253.1 L1743.9,251.7 L1746.9,250.3 L1749.9,248.9 L1752.9,247.6 L1755.9,246.3 L1758.9,245.1 L1761.9,243.9 L1764.9,242.7 L1767.9,241.6 L1770.9,240.4 L1773.9,239.3 L1776.9,238.2 L1779.9,237.0 L1782.9,235.8 L1785.9,234.6 L1788.9,233.3 L1792.0,232.0 L1795.0,230.7 L1798.0,229.3 L1801.0,227.8 L1804.0,226.2 L1807.0,224.5 L1810.0,222.8 L1813.0,220.9 L1816.0,218.8 L1819.0,216.7 L1822.0,214.4 L1825.0,212.0 L1828.0,209.4 L1831.0,206.6 L1834.0,203.7 L1837.0,200.7 L1840.0,197.5 L1843.0,194.1 L1846.0,190.6 L1849.1,186.8 L1852.1,182.9 L1855.1,178.7 L1858.1,174.4 L1861.1,170.0 L1864.1,165.5 L1867.1,161.0 L1870.1,156.4 L1873.1,151.7 L1876.1,147.1 L1879.1,142.4 L1882.1,137.7 L1885.1,133.0 L1888.1,128.4 L1891.1,123.9 L1894.1,119.4 L1897.1,115.1 L1900.1,111.0 L1903.1,107.0 L1906.2,103.2 L1909.2,99.7 L1912.2,96.4 L1915.2,93.4 L1918.2,90.6 L1921.2,88.1 L1924.2,86.0 L1927.2,84.2 L1930.2,82.7 L1933.2,81.6 L1936.2,80.8 L1939.2,80.3 L1942.2,80.2 L1945.2,80.5 L1948.2,81.2 L1951.2,82.2 L1954.2,83.6 L1957.2,85.3 L1960.2,87.5 L1963.3,90.0 L1966.3,92.8 L1969.3,96.0 L1972.3,99.4 L1975.3,103.2 L1978.3,107.3 L1981.3,111.7 L1984.3,116.4 L1987.3,121.3 L1990.3,126.4 L1993.3,131.8 L1996.3,137.4 L1999.3,143.1 L2002.3,149.0 L2005.3,155.0 L2008.3,161.1 L2011.3,167.5 L2014.3,173.9 L2017.3,180.5 L2020.4,187.0 L2023.4,193.6 L2026.4,200.0 L2029.4,206.5 L2032.4,212.9 L2035.4,219.1 L2038.4,225.3 L2041.4,231.3 L2044.4,237.1 L2047.4,242.8 L2050.4,248.3 L2053.4,253.7 L2056.4,258.9 L2059.4,263.8 L2062.4,268.6 L2065.4,273.1 L2068.4,277.4 L2071.4,281.5 L2074.4,285.4 L2077.5,289.1 L2080.5,292.5 L2083.5,295.8 L2086.5,298.9 L2089.5,301.8 L2092.5,304.5 L2095.5,307.1 L2098.5,309.5 L2101.5,311.7 L2104.5,313.7 L2107.5,315.6 L2110.5,317.4 L2113.5,319.0 L2116.5,320.5 L2119.5,321.8 L2122.5,323.1 L2125.5,324.3 L2128.5,325.4 L2131.6,326.4 L2134.6,327.3 L2137.6,328.1 L2140.6,328.9 L2143.6,329.6 L2146.6,330.3 L2149.6,330.9 L2152.6,331.4 L2155.6,331.9 L2158.6,332.4 L2161.6,332.8 L2164.6,333.2 L2167.6,333.6 L2170.6,333.9 L2173.6,334.3 L2176.6,334.6 L2179.6,334.9 L2182.6,335.2 L2185.6,335.5 L2188.7,335.8 L2191.7,336.0 L2194.7,336.2 L2197.7,336.4 L2200.7,336.7 L2203.7,336.8 L2206.7,337.0 L2209.7,337.2 L2212.7,337.4 L2215.7,337.5 L2218.7,337.7 L2221.7,337.8 L2224.7,338.0 L2227.7,338.1 L2230.7,338.2 L2233.7,338.3 L2236.7,338.5 L2239.7,338.6 L2242.7,338.7 L2245.8,338.8 L2248.8,338.9 L2251.8,339.0 L2254.8,339.1 L2257.8,339.2 L2260.8,339.3 L2263.8,339.4 L2266.8,339.5 L2269.8,339.6 L2272.8,339.7 L2275.8,339.8 L2278.8,339.9 L2281.8,340.0 L2284.8,340.1 L2287.8,340.2 L2290.8,340.2 L2293.8,340.3 L2296.8,340.4 L2299.8,340.5 L2302.9,340.6 L2305.9,340.7 L2308.9,340.8 L2311.9,340.8 L2314.9,340.9 L2317.9,341.0 L2320.9,341.1 L2323.9,341.2 L2326.9,341.2 L2329.9,341.3 L2332.9,341.4 L2335.9,341.5 L2338.9,341.5 L2341.9,341.6 L2344.9,341.7 L2347.9,341.8 L2350.9,341.8 L2353.9,341.9 L2356.9,342.0 L2360.0,342.1 L2363.0,342.1 L2366.0,342.2 L2369.0,342.3 L2372.0,342.3 L2375.0,342.4 L2378.0,342.5 L2381.0,342.6 L2384.0,342.6 L2387.0,342.7" stroke="#FFBA22"/>
<path d="M1308.1,604.2 L1311.1,604.3 L1314.1,604.3 L1317.1,604.4 L1320.1,604.4 L1323.1,604.4 L1326.1,604.5 L1329.1,604.5 L1332.1,604.5 L1335.1,604.6 L1338.2,604.6 L1341.2,604.6 L1344.2,604.6 L1347.2,604.7 L1350.2,604.7 L1353.2,604.7 L1356.2,604.7 L1359.2,604.8 L1362.2,604.8 L1365.2,604.8 L1368.2,604.8 L1371.2,604.8 L1374.2,604.9 L1377.2,604.9 L1380.2,604.9 L1383.2,604.9 L1386.2,604.9 L1389.2,604.9 L1392.2,605.0 L1395.3,605.0 L1398.3,605.0 L1401.3,605.0 L1404.3,605.0 L1407.3,605.0 L1410.3,605.0 L1413.3,605.0 L1416.3,605.0 L1419.3,605.0 L1422.3,605.0 L1425.3,605.0 L1428.3,605.0 L1431.3,605.0 L1434.3,605.0 L1437.3,604.9 L1440.3,604.9 L1443.3,604.9 L1446.3,604.9 L1449.3,604.8 L1452.4,604.8 L1455.4,604.7 L1458.4,604.7 L1461.4,604.7 L1464.4,604.6 L1467.4,604.5 L1470.4,604.5 L1473.4,604.4 L1476.4,604.3 L1479.4,604.2 L1482.4,604.2 L1485.4,604.1 L1488.4,604.0 L1491.4,603.9 L1494.4,603.8 L1497.4,603.7 L1500.4,603.5 L1503.4,603.4 L1506.4,603.3 L1509.5,603.2 L1512.5,603.0 L1515.5,602.9 L1518.5,602.8 L1521.5,602.6 L1524.5,602.5 L1527.5,602.3 L1530.5,602.1 L1533.5,601.9 L1536.5,601.8 L1539.5,601.6 L1542.5,601.4 L1545.5,601.2 L1548.5,601.0 L1551.5,600.7 L1554.5,600.5 L1557.5,600.3 L1560.5,600.0 L1563.5,599.8 L1566.6,599.5 L1569.6,599.2 L1572.6,598.9 L1575.6,598.6 L1578.6,598.3 L1581.6,598.0 L1584.6,597.7 L1587.6,597.3 L1590.6,596.9 L1593.6,596.6 L1596.6,596.2 L1599.6,595.7 L1602.6,595.3 L1605.6,594.9 L1608.6,594.5 L1611.6,594.0 L1614.6,593.6 L1617.6,593.1 L1620.7,592.6 L1623.7,592.1 L1626.7,591.6 L1629.7,591.1 L1632.7,590.5 L1635.7,589.9 L1638.7,589.3 L1641.7,588.7 L1644.7,588.2 L1647.7,587.5 L1650.7,586.9 L1653.7,586.2 L1656.7,585.4 L1659.7,584.5 L1662.7,583.5 L1665.7,582.4 L1668.7,581.2 L1671.7,580.0 L1674.7,578.8 L1677.8,577.6 L1680.8,576.4 L1683.8,575.2 L1686.8,574.1 L1689.8,572.9 L1692.8,571.7 L1695.8,570.5 L1698.8,569.3 L1701.8,568.1 L1704.8,566.9 L1707.8,565.7 L1710.8,564.5 L1713.8,563.3 L1716.8,562.2 L1719.8,561.0 L1722.8,559.9 L1725.8,558.8 L1728.8,557.7 L1731.8,556.7 L1734.9,555.6 L1737.9,554.6 L1740.9,553.7 L1743.9,552.7 L1746.9,551.8 L1749.9,550.9 L1752.9,550.1 L1755.9,549.2 L1758.9,548.5 L1761.9,547.7 L1764.9,546.9 L1767.9,546.2 L1770.9,545.5 L1773.9,544.7 L1776.9,544.0 L1779.9,543.2 L1782.9,542.4 L1785.9,541.5 L1788.9,540.5 L1792.0,539.4 L1795.0,538.3 L1798.0,537.1 L1801.0,535.8 L1804.0,534.5 L1807.0,533.0 L1810.0,531.5 L1813.0,529.8 L1816.0,528.0 L1819.0,526.2 L1822.0,524.2 L1825.0,522.0 L1828.0,519.7 L1831.0,517.2 L1834.0,514.5 L1837.0,511.6 L1840.0,508.5 L1843.0,505.2 L1846.0,501.7 L1849.1,498.0 L1852.1,494.0 L1855.1,489.7 L1858.1,485.2 L1861.1,480.5 L1864.1,475.7 L1867.1,470.8 L1870.1,465.7 L1873.1,460.5 L1876.1,455.2 L1879.1,449.9 L1882.1,444.4 L1885.1,439.0 L1888.1,433.5 L1891.1,428.0 L1894.1,422.6 L1897.1,417.2 L1900.1,411.9 L1903.1,406.7 L1906.2,401.6 L1909.2,396.7 L1912.2,392.0 L1915.2,387.6 L1918.2,383.3 L1921.2,379.3 L1924.2,375.6 L1927.2,372.3 L1930.2,369.3 L1933.2,366.8 L1936.2,364.8 L1939.2,363.2 L1942.2,362.0 L1945.2,361.1 L1948.2,360.6 L1951.2,360.5 L1954.2,360.7 L1957.2,361.3 L1960.2,362.3 L1963.3,363.9 L1966.3,365.9 L1969.3,368.3 L1972.3,371.2 L1975.3,374.5 L1978.3,378.2 L1981.3,382.3 L1984.3,386.8 L1987.3,391.6 L1990.3,396.7 L1993.3,402.1 L1996.3,407.7 L1999.3,413.7 L2002.3,419.8 L2005.3,426.1 L2008.3,432.5 L2011.3,439.1 L2014.3,445.8 L2017.3,452.6 L2020.4,459.4 L2023.4,466.2 L2026.4,473.0 L2029.4,479.7 L2032.4,486.4 L2035.4,493.0 L2038.4,499.4 L2041.4,505.7 L2044.4,511.8 L2047.4,517.8 L2050.4,523.5 L2053.4,529.0 L2056.4,534.3 L2059.4,539.4 L2062.4,544.2 L2065.4,548.9 L2068.4,553.2 L2071.4,557.3 L2074.4,561.2 L2077.5,564.8 L2080.5,568.2 L2083.5,571.4 L2086.5,574.4 L2089.5,577.3 L2092.5,579.9 L2095.5,582.4 L2098.5,584.7 L2101.5,586.8 L2104.5,588.8 L2107.5,590.7 L2110.5,592.5 L2113.5,594.1 L2116.5,595.6 L2119.5,597.1 L2122.5,598.4 L2125.5,599.6 L2128.5,600.8 L2131.6,601.8 L2134.6,602.8 L2137.6,603.7 L2140.6,604.6 L2143.6,605.4 L2146.6,606.1 L2149.6,606.8 L2152.6,607.4 L2155.6,608.0 L2158.6,608.6 L2161.6,609.1 L2164.6,609.6 L2167.6,610.1 L2170.6,610.6 L2173.6,611.0 L2176.6,611.4 L2179.6,611.8 L2182.6,612.2 L2185.6,612.6 L2188.7,613.0 L2191.7,613.3 L2194.7,613.7 L2197.7,614.0 L2200.7,614.3 L2203.7,614.6 L2206.7,614.9 L2209.7,615.1 L2212.7,615.3 L2215.7,615.5 L2218.7,615.7 L2221.7,615.8 L2224.7,616.0 L2227.7,616.1 L2230.7,616.2 L2233.7,616.4 L2236.7,616.5 L2239.7,616.6 L2242.7,616.7 L2245.8,616.8 L2248.8,616.9 L2251.8,617.0 L2254.8,617.1 L2257.8,617.2 L2260.8,617.2 L2263.8,617.3 L2266.8,617.4 L2269.8,617.4 L2272.8,617.5 L2275.8,617.6 L2278.8,617.6 L2281.8,617.7 L2284.8,617.7 L2287.8,617.8 L2290.8,617.8 L2293.8,617.9 L2296.8,617.9 L2299.8,618.0 L2302.9,618.0 L2305.9,618.0 L2308.9,618.1 L2311.9,618.1 L2314.9,618.2 L2317.9,618.2 L2320.9,618.2 L2323.9,618.3 L2326.9,618.3 L2329.9,618.4 L2332.9,618.4 L2335.9,618.4 L2338.9,618.5 L2341.9,618.5 L2344.9,618.6 L2347.9,618.6 L2350.9,618.6 L2353.9,618.7 L2356.9,618.7 L2360.0,618.7 L2363.0,618.8 L2366.0,618.8 L2369.0,618.9 L2372.0,618.9 L2375.0,618.9 L2378.0,619.0 L2381.0,619.0 L2384.0,619.1 L2387.0,619.1" stroke="#FF6420"/>
<path d="M1308.1,881.5 L1311.1,881.6 L1314.1,881.6 L1317.1,881.7 L1320.1,881.7 L1323.1,881.8 L1326.1,881.8 L1329.1,881.9 L1332.1,881.9 L1335.1,882.0 L1338.2,882.0 L1341.2,882.1 L1344.2,882.1 L1347.2,882.1 L1350.2,882.2 L1353.2,882.2 L1356.2,882.2 L1359.2,882.3 L1362.2,882.3 L1365.2,882.4 L1368.2,882.4 L1371.2,882.4 L1374.2,882.4 L1377.2,882.5 L1380.2,882.5 L1383.2,882.5 L1386.2,882.5 L1389.2,882.5 L1392.2,882.5 L1395.3,882.5 L1398.3,882.5 L1401.3,882.5 L1404.3,882.5 L1407.3,882.5 L1410.3,882.4 L1413.3,882.4 L1416.3,882.4 L1419.3,882.4 L1422.3,882.4 L1425.3,882.4 L1428.3,882.4 L1431.3,882.4 L1434.3,882.6 L1437.3,883.0 L1440.3,883.3 L1443.3,883.6 L1446.3,883.8 L1449.3,883.8 L1452.4,883.6 L1455.4,883.3 L1458.4,883.0 L1461.4,882.7 L1464.4,882.5 L1467.4,882.4 L1470.4,882.3 L1473.4,882.3 L1476.4,882.3 L1479.4,882.3 L1482.4,882.3 L1485.4,882.3 L1488.4,882.2 L1491.4,882.2 L1494.4,882.2 L1497.4,882.2 L1500.4,882.2 L1503.4,882.1 L1506.4,882.1 L1509.5,882.0 L1512.5,881.9 L1515.5,881.8 L1518.5,881.7 L1521.5,881.5 L1524.5,881.3 L1527.5,881.1 L1530.5,880.9 L1533.5,880.6 L1536.5,880.2 L1539.5,879.9 L1542.5,879.5 L1545.5,879.0 L1548.5,878.6 L1551.5,878.1 L1554.5,877.6 L1557.5,877.1 L1560.5,876.6 L1563.5,876.1 L1566.6,875.6 L1569.6,875.1 L1572.6,874.6 L1575.6,874.2 L1578.6,873.7 L1581.6,873.2 L1584.6,872.7 L1587.6,872.2 L1590.6,871.7 L1593.6,871.1 L1596.6,870.6 L1599.6,870.0 L1602.6,869.4 L1605.6,868.7 L1608.6,868.1 L1611.6,867.4 L1614.6,866.7 L1617.6,866.0 L1620.7,865.3 L1623.7,864.6 L1626.7,863.8 L1629.7,863.1 L1632.7,862.3 L1635.7,861.5 L1638.7,860.7 L1641.7,859.9 L1644.7,859.1 L1647.7,858.2 L1650.7,857.4 L1653.7,856.5 L1656.7,855.7 L1659.7,854.8 L1662.7,854.0 L1665.7,853.1 L1668.7,852.2 L1671.7,851.3 L1674.7,850.4 L1677.8,849.5 L1680.8,848.6 L1683.8,847.7 L1686.8,846.8 L1689.8,845.9 L1692.8,845.0 L1695.8,844.1 L1698.8,843.2 L1701.8,842.3 L1704.8,841.4 L1707.8,840.5 L1710.8,839.6 L1713.8,838.7 L1716.8,837.9 L1719.8,837.0 L1722.8,836.1 L1725.8,835.2 L1728.8,834.3 L1731.8,833.4 L1734.9,832.5 L1737.9,831.5 L1740.9,830.5 L1743.9,829.5 L1746.9,828.4 L1749.9,827.2 L1752.9,826.0 L1755.9,824.7 L1758.9,823.4 L1761.9,822.0 L1764.9,820.6 L1767.9,819.1 L1770.9,817.5 L1773.9,815.9 L1776.9,814.1 L1779.9,812.2 L1782.9,810.3 L1785.9,808.5 L1788.9,806.5 L1792.0,804.4 L1795.0,802.1 L1798.0,799.4 L1801.0,796.3 L1804.0,793.0 L1807.0,789.4 L1810.0,785.7 L1813.0,782.0 L1816.0,778.3 L1819.0,774.5 L1822.0,770.5 L1825.0,766.5 L1828.0,762.2 L1831.0,757.8 L1834.0,753.2 L1837.0,748.6 L1840.0,743.8 L1843.0,739.0 L1846.0,734.0 L1849.1,729.1 L1852.1,724.1 L1855.1,719.1 L1858.1,714.1 L1861.1,709.2 L1864.1,704.3 L1867.1,699.4 L1870.1,694.7 L1873.1,690.0 L1876.1,685.5 L1879.1,681.1 L1882.1,676.9 L1885.1,672.9 L1888.1,669.2 L1891.1,665.8 L1894.1,662.6 L1897.1,659.7 L1900.1,657.0 L1903.1,654.6 L1906.2,652.6 L1909.2,650.8 L1912.2,649.3 L1915.2,648.0 L1918.2,646.9 L1921.2,646.0 L1924.2,645.5 L1927.2,645.3 L1930.2,645.5 L1933.2,645.9 L1936.2,646.7 L1939.2,647.9 L1942.2,649.3 L1945.2,651.1 L1948.2,653.1 L1951.2,655.4 L1954.2,658.0 L1957.2,660.8 L1960.2,663.8 L1963.3,666.9 L1966.3,670.2 L1969.3,673.7 L1972.3,677.3 L1975.3,681.0 L1978.3,684.8 L1981.3,688.7 L1984.3,692.7 L1987.3,696.8 L1990.3,700.9 L1993.3,705.0 L1996.3,709.2 L1999.3,713.4 L2002.3,717.7 L2005.3,721.9 L2008.3,726.1 L2011.3,730.3 L2014.3,734.5 L2017.3,738.6 L2020.4,742.7 L2023.4,746.7 L2026.4,750.7 L2029.4,754.6 L2032.4,758.6 L2035.4,762.5 L2038.4,766.5 L2041.4,770.4 L2044.4,774.2 L2047.4,778.1 L2050.4,782.1 L2053.4,786.1 L2056.4,790.1 L2059.4,794.0 L2062.4,797.6 L2065.4,801.1 L2068.4,804.5 L2071.4,807.9 L2074.4,811.1 L2077.5,814.3 L2080.5,817.4 L2083.5,820.4 L2086.5,823.3 L2089.5,826.2 L2092.5,829.0 L2095.5,831.7 L2098.5,834.3 L2101.5,836.8 L2104.5,839.3 L2107.5,841.6 L2110.5,843.9 L2113.5,846.2 L2116.5,848.4 L2119.5,850.6 L2122.5,852.7 L2125.5,854.8 L2128.5,856.8 L2131.6,858.8 L2134.6,860.8 L2137.6,862.8 L2140.6,864.8 L2143.6,866.7 L2146.6,868.6 L2149.6,870.5 L2152.6,872.4 L2155.6,874.3 L2158.6,876.2 L2161.6,878.0 L2164.6,879.6 L2167.6,880.9 L2170.6,882.1 L2173.6,883.1 L2176.6,884.0 L2179.6,884.8 L2182.6,885.4 L2185.6,885.8 L2188.7,886.1 L2191.7,886.7 L2194.7,887.4 L2197.7,888.3 L2200.7,889.1 L2203.7,889.9 L2206.7,890.6 L2209.7,891.2 L2212.7,891.6 L2215.7,892.0 L2218.7,892.3 L2221.7,892.5 L2224.7,892.8 L2227.7,893.1 L2230.7,893.3 L2233.7,893.6 L2236.7,893.8 L2239.7,894.1 L2242.7,894.3 L2245.8,894.6 L2248.8,894.8 L2251.8,895.0 L2254.8,895.2 L2257.8,895.4 L2260.8,895.5 L2263.8,895.7 L2266.8,895.8 L2269.8,896.0 L2272.8,896.1 L2275.8,896.2 L2278.8,896.3 L2281.8,896.4 L2284.8,896.4 L2287.8,896.5 L2290.8,896.6 L2293.8,896.6 L2296.8,896.6 L2299.8,896.7 L2302.9,896.7 L2305.9,896.7 L2308.9,896.8 L2311.9,896.8 L2314.9,896.8 L2317.9,896.9 L2320.9,896.9 L2323.9,897.0 L2326.9,897.0 L2329.9,897.1 L2332.9,897.1 L2335.9,897.2 L2338.9,897.3 L2341.9,897.3 L2344.9,897.4 L2347.9,897.5 L2350.9,897.5 L2353.9,897.6 L2356.9,897.7 L2360.0,897.8 L2363.0,897.9 L2366.0,897.9 L2369.0,898.0 L2372.0,898.1 L2375.0,898.2 L2378.0,898.3 L2381.0,898.4 L2384.0,898.5 L2387.0,898.6" stroke="#FF0040"/>
<path d="M1308.1,1119.9 L1311.1,1119.5 L1314.1,1119.2 L1317.1,1118.9 L1320.1,1118.7 L1323.1,1118.4 L1326.1,1118.2 L1329.1,1118.1 L1332.1,1118.0 L1335.1,1118.0 L1338.2,1118.0 L1341.2,1118.0 L1344.2,1118.1 L1347.2,1118.3 L1350.2,1118.7 L1353.2,1119.0 L1356.2,1119.4 L1359.2,1119.7 L1362.2,1120.0 L1365.2,1120.2 L1368.2,1120.3 L1371.2,1120.3 L1374.2,1120.2 L1377.2,1120.1 L1380.2,1120.1 L1383.2,1120.0 L1386.2,1119.9 L1389.2,1119.8 L1392.2,1119.8 L1395.3,1119.7 L1398.3,1119.6 L1401.3,1119.6 L1404.3,1119.5 L1407.3,1119.4 L1410.3,1119.3 L1413.3,1119.3 L1416.3,1119.2 L1419.3,1119.1 L1422.3,1119.0 L1425.3,1118.9 L1428.3,1118.9 L1431.3,1118.8 L1434.3,1118.7 L1437.3,1118.6 L1440.3,1118.5 L1443.3,1118.4 L1446.3,1118.3 L1449.3,1118.2 L1452.4,1118.1 L1455.4,1118.0 L1458.4,1117.9 L1461.4,1117.8 L1464.4,1117.7 L1467.4,1117.6 L1470.4,1117.5 L1473.4,1117.4 L1476.4,1117.3 L1479.4,1117.1 L1482.4,1117.0 L1485.4,1116.9 L1488.4,1116.7 L1491.4,1116.6 L1494.4,1116.5 L1497.4,1116.4 L1500.4,1116.3 L1503.4,1116.2 L1506.4,1116.1 L1509.5,1116.0 L1512.5,1115.9 L1515.5,1115.8 L1518.5,1115.7 L1521.5,1115.6 L1524.5,1115.5 L1527.5,1115.4 L1530.5,1115.3 L1533.5,1115.2 L1536.5,1115.1 L1539.5,1115.0 L1542.5,1114.9 L1545.5,1114.7 L1548.5,1114.6 L1551.5,1114.4 L1554.5,1114.2 L1557.5,1114.0 L1560.5,1113.8 L1563.5,1113.6 L1566.6,1113.3 L1569.6,1113.1 L1572.6,1112.8 L1575.6,1112.5 L1578.6,1112.2 L1581.6,1111.9 L1584.6,1111.6 L1587.6,1110.8 L1590.6,1109.4 L1593.6,1107.9 L1596.6,1106.5 L1599.6,1105.5 L1602.6,1105.0 L1605.6,1104.6 L1608.6,1104.2 L1611.6,1103.8 L1614.6,1103.4 L1617.6,1103.0 L1620.7,1102.5 L1623.7,1101.9 L1626.7,1101.2 L1629.7,1100.5 L1632.7,1099.8 L1635.7,1099.1 L1638.7,1098.3 L1641.7,1097.5 L1644.7,1096.7 L1647.7,1095.8 L1650.7,1094.9 L1653.7,1094.0 L1656.7,1093.0 L1659.7,1092.0 L1662.7,1091.0 L1665.7,1090.0 L1668.7,1088.9 L1671.7,1087.8 L1674.7,1086.7 L1677.8,1085.3 L1680.8,1083.8 L1683.8,1082.0 L1686.8,1080.2 L1689.8,1078.3 L1692.8,1076.6 L1695.8,1074.9 L1698.8,1073.5 L1701.8,1072.4 L1704.8,1071.5 L1707.8,1070.7 L1710.8,1070.0 L1713.8,1069.3 L1716.8,1068.6 L1719.8,1067.8 L1722.8,1066.8 L1725.8,1065.7 L1728.8,1064.2 L1731.8,1062.7 L1734.9,1061.0 L1737.9,1059.2 L1740.9,1057.4 L1743.9,1055.7 L1746.9,1054.1 L1749.9,1052.6 L1752.9,1051.2 L1755.9,1049.9 L1758.9,1048.6 L1761.9,1047.4 L1764.9,1046.1 L1767.9,1044.8 L1770.9,1043.6 L1773.9,1042.3 L1776.9,1040.9 L1779.9,1039.5 L1782.9,1038.1 L1785.9,1036.6 L1788.9,1035.0 L1792.0,1033.5 L1795.0,1032.0 L1798.0,1030.5 L1801.0,1029.0 L1804.0,1027.5 L1807.0,1026.1 L1810.0,1024.6 L1813.0,1023.0 L1816.0,1021.5 L1819.0,1020.0 L1822.0,1018.5 L1825.0,1017.0 L1828.0,1015.4 L1831.0,1013.7 L1834.0,1012.0 L1837.0,1010.0 L1840.0,1007.5 L1843.0,1004.5 L1846.0,1001.4 L1849.1,998.3 L1852.1,995.8 L1855.1,993.5 L1858.1,991.2 L1861.1,988.9 L1864.1,986.4 L1867.1,983.9 L1870.1,981.2 L1873.1,978.5 L1876.1,975.7 L1879.1,972.8 L1882.1,969.9 L1885.1,966.7 L1888.1,963.0 L1891.1,959.1 L1894.1,955.5 L1897.1,952.4 L1900.1,949.9 L1903.1,947.6 L1906.2,945.5 L1909.2,943.5 L1912.2,941.4 L1915.2,939.5 L1918.2,937.7 L1921.2,936.2 L1924.2,934.9 L1927.2,933.8 L1930.2,932.9 L1933.2,932.2 L1936.2,931.8 L1939.2,931.6 L1942.2,931.7 L1945.2,932.0 L1948.2,932.6 L1951.2,933.4 L1954.2,934.5 L1957.2,935.7 L1960.2,937.3 L1963.3,939.1 L1966.3,941.3 L1969.3,943.8 L1972.3,946.6 L1975.3,949.6 L1978.3,952.9 L1981.3,956.3 L1984.3,959.9 L1987.3,963.7 L1990.3,967.6 L1993.3,971.7 L1996.3,975.9 L1999.3,980.2 L2002.3,984.6 L2005.3,989.0 L2008.3,993.6 L2011.3,998.3 L2014.3,1003.0 L2017.3,1007.7 L2020.4,1012.5 L2023.4,1017.4 L2026.4,1022.5 L2029.4,1027.4 L2032.4,1032.1 L2035.4,1036.5 L2038.4,1040.8 L2041.4,1044.9 L2044.4,1048.9 L2047.4,1052.8 L2050.4,1056.6 L2053.4,1060.3 L2056.4,1063.8 L2059.4,1067.2 L2062.4,1070.5 L2065.4,1073.6 L2068.4,1076.7 L2071.4,1079.6 L2074.4,1082.3 L2077.5,1085.1 L2080.5,1088.0 L2083.5,1090.8 L2086.5,1093.6 L2089.5,1096.4 L2092.5,1099.4 L2095.5,1102.4 L2098.5,1104.6 L2101.5,1106.1 L2104.5,1107.6 L2107.5,1108.9 L2110.5,1110.1 L2113.5,1111.3 L2116.5,1112.4 L2119.5,1113.3 L2122.5,1114.2 L2125.5,1115.1 L2128.5,1115.9 L2131.6,1116.7 L2134.6,1117.5 L2137.6,1118.2 L2140.6,1118.9 L2143.6,1119.6 L2146.6,1120.2 L2149.6,1120.8 L2152.6,1121.3 L2155.6,1121.7 L2158.6,1122.2 L2161.6,1122.6 L2164.6,1122.9 L2167.6,1123.3 L2170.6,1123.8 L2173.6,1124.3 L2176.6,1124.7 L2179.6,1125.1 L2182.6,1125.3 L2185.6,1125.5 L2188.7,1125.7 L2191.7,1125.9 L2194.7,1126.1 L2197.7,1126.3 L2200.7,1126.4 L2203.7,1126.5 L2206.7,1126.7 L2209.7,1126.8 L2212.7,1126.9 L2215.7,1127.0 L2218.7,1127.2 L2221.7,1127.3 L2224.7,1127.4 L2227.7,1127.5 L2230.7,1127.6 L2233.7,1127.7 L2236.7,1127.9 L2239.7,1128.0 L2242.7,1128.1 L2245.8,1128.2 L2248.8,1128.3 L2251.8,1128.4 L2254.8,1128.7 L2257.8,1129.3 L2260.8,1129.9 L2263.8,1130.4 L2266.8,1130.7 L2269.8,1130.7 L2272.8,1130.7 L2275.8,1130.8 L2278.8,1130.8 L2281.8,1130.8 L2284.8,1130.8 L2287.8,1130.8 L2290.8,1130.8 L2293.8,1130.8 L2296.8,1130.7 L2299.8,1130.7 L2302.9,1130.7 L2305.9,1130.7 L2308.9,1130.6 L2311.9,1130.6 L2314.9,1130.6 L2317.9,1130.5 L2320.9,1130.5 L2323.9,1130.5 L2326.9,1130.4 L2329.9,1130.4 L2332.9,1130.3 L2335.9,1130.3 L2338.9,1130.3 L2341.9,1130.4 L2344.9,1130.5 L2347.9,1130.7 L2350.9,1130.9 L2353.9,1131.2 L2356.9,1131.4 L2360.0,1131.6 L2363.0,1131.8 L2366.0,1131.9 L2369.0,1131.9 L2372.0,1131.8 L2375.0,1131.7 L2378.0,1131.5 L2381.0,1131.3 L2384.0,1131.0 L2387.0,1130.7" stroke="#B81A58"/>
<path d="M1308.1,1365.3 L1311.1,1365.2 L1314.1,1365.2 L1317.1,1365.1 L1320.1,1365.1 L1323.1,1365.0 L1326.1,1365.0 L1329.1,1364.9 L1332.1,1364.9 L1335.1,1364.9 L1338.2,1364.9 L1341.2,1364.9 L1344.2,1364.8 L1347.2,1364.9 L1350.2,1364.9 L1353.2,1364.9 L1356.2,1364.9 L1359.2,1365.0 L1362.2,1365.1 L1365.2,1365.2 L1368.2,1365.3 L1371.2,1365.4 L1374.2,1365.5 L1377.2,1365.6 L1380.2,1365.7 L1383.2,1365.8 L1386.2,1366.0 L1389.2,1366.1 L1392.2,1366.2 L1395.3,1366.3 L1398.3,1366.4 L1401.3,1366.5 L1404.3,1366.6 L1407.3,1366.8 L1410.3,1366.9 L1413.3,1367.0 L1416.3,1367.1 L1419.3,1367.2 L1422.3,1367.3 L1425.3,1367.4 L1428.3,1367.5 L1431.3,1367.6 L1434.3,1367.6 L1437.3,1367.5 L1440.3,1367.3 L1443.3,1367.0 L1446.3,1366.7 L1449.3,1366.4 L1452.4,1366.0 L1455.4,1365.7 L1458.4,1365.5 L1461.4,1365.3 L1464.4,1365.3 L1467.4,1365.3 L1470.4,1365.4 L1473.4,1365.6 L1476.4,1365.7 L1479.4,1365.8 L1482.4,1365.8 L1485.4,1365.7 L1488.4,1365.5 L1491.4,1365.3 L1494.4,1365.0 L1497.4,1364.7 L1500.4,1364.4 L1503.4,1364.1 L1506.4,1363.7 L1509.5,1363.4 L1512.5,1363.0 L1515.5,1362.7 L1518.5,1362.3 L1521.5,1362.0 L1524.5,1361.7 L1527.5,1361.4 L1530.5,1361.1 L1533.5,1360.9 L1536.5,1360.7 L1539.5,1360.4 L1542.5,1360.1 L1545.5,1359.8 L1548.5,1359.5 L1551.5,1359.2 L1554.5,1358.9 L1557.5,1358.6 L1560.5,1358.2 L1563.5,1357.9 L1566.6,1357.5 L1569.6,1357.1 L1572.6,1356.7 L1575.6,1356.3 L1578.6,1355.8 L1581.6,1355.4 L1584.6,1354.9 L1587.6,1354.4 L1590.6,1353.9 L1593.6,1353.3 L1596.6,1352.7 L1599.6,1352.2 L1602.6,1351.5 L1605.6,1350.9 L1608.6,1350.3 L1611.6,1349.6 L1614.6,1348.9 L1617.6,1348.2 L1620.7,1347.5 L1623.7,1346.7 L1626.7,1346.0 L1629.7,1345.2 L1632.7,1344.4 L1635.7,1343.6 L1638.7,1342.7 L1641.7,1341.8 L1644.7,1340.9 L1647.7,1340.0 L1650.7,1339.0 L1653.7,1338.0 L1656.7,1337.0 L1659.7,1335.9 L1662.7,1334.8 L1665.7,1333.7 L1668.7,1332.5 L1671.7,1331.4 L1674.7,1330.2 L1677.8,1329.0 L1680.8,1327.8 L1683.8,1326.6 L1686.8,1325.3 L1689.8,1323.9 L1692.8,1322.4 L1695.8,1320.9 L1698.8,1319.4 L1701.8,1317.9 L1704.8,1316.4 L1707.8,1315.0 L1710.8,1313.6 L1713.8,1312.3 L1716.8,1311.1 L1719.8,1310.1 L1722.8,1309.2 L1725.8,1308.5 L1728.8,1307.9 L1731.8,1307.3 L1734.9,1306.7 L1737.9,1306.0 L1740.9,1305.3 L1743.9,1304.4 L1746.9,1303.4 L1749.9,1302.1 L1752.9,1300.8 L1755.9,1299.6 L1758.9,1298.5 L1761.9,1297.7 L1764.9,1297.1 L1767.9,1296.5 L1770.9,1295.9 L1773.9,1295.4 L1776.9,1294.9 L1779.9,1294.3 L1782.9,1293.8 L1785.9,1293.2 L1788.9,1292.6 L1792.0,1292.1 L1795.0,1291.4 L1798.0,1290.0 L1801.0,1288.2 L1804.0,1286.5 L1807.0,1285.4 L1810.0,1285.0 L1813.0,1284.7 L1816.0,1284.0 L1819.0,1282.5 L1822.0,1280.7 L1825.0,1278.8 L1828.0,1277.1 L1831.0,1275.9 L1834.0,1274.9 L1837.0,1273.6 L1840.0,1271.5 L1843.0,1268.5 L1846.0,1265.2 L1849.1,1261.9 L1852.1,1259.1 L1855.1,1256.5 L1858.1,1253.8 L1861.1,1251.0 L1864.1,1247.9 L1867.1,1244.7 L1870.1,1241.3 L1873.1,1237.8 L1876.1,1234.0 L1879.1,1230.1 L1882.1,1226.0 L1885.1,1221.8 L1888.1,1217.6 L1891.1,1213.3 L1894.1,1208.9 L1897.1,1204.6 L1900.1,1200.3 L1903.1,1196.0 L1906.2,1191.6 L1909.2,1187.1 L1912.2,1182.7 L1915.2,1178.5 L1918.2,1174.6 L1921.2,1171.1 L1924.2,1167.9 L1927.2,1165.1 L1930.2,1162.9 L1933.2,1161.1 L1936.2,1159.7 L1939.2,1158.4 L1942.2,1157.5 L1945.2,1157.0 L1948.2,1156.8 L1951.2,1157.0 L1954.2,1157.5 L1957.2,1158.3 L1960.2,1159.5 L1963.3,1161.0 L1966.3,1162.8 L1969.3,1165.0 L1972.3,1167.5 L1975.3,1170.1 L1978.3,1172.5 L1981.3,1174.9 L1984.3,1177.7 L1987.3,1181.1 L1990.3,1185.4 L1993.3,1190.5 L1996.3,1196.0 L1999.3,1201.4 L2002.3,1206.8 L2005.3,1212.3 L2008.3,1218.0 L2011.3,1223.8 L2014.3,1229.6 L2017.3,1235.4 L2020.4,1241.2 L2023.4,1247.1 L2026.4,1253.0 L2029.4,1258.8 L2032.4,1264.6 L2035.4,1270.2 L2038.4,1275.8 L2041.4,1281.2 L2044.4,1286.5 L2047.4,1291.6 L2050.4,1295.8 L2053.4,1299.5 L2056.4,1303.0 L2059.4,1306.9 L2062.4,1311.0 L2065.4,1314.9 L2068.4,1318.6 L2071.4,1322.2 L2074.4,1325.7 L2077.5,1329.0 L2080.5,1332.1 L2083.5,1335.0 L2086.5,1337.7 L2089.5,1339.9 L2092.5,1341.7 L2095.5,1343.4 L2098.5,1345.0 L2101.5,1346.9 L2104.5,1348.9 L2107.5,1351.0 L2110.5,1353.0 L2113.5,1354.9 L2116.5,1356.5 L2119.5,1357.8 L2122.5,1359.1 L2125.5,1360.2 L2128.5,1361.3 L2131.6,1362.3 L2134.6,1363.2 L2137.6,1364.0 L2140.6,1364.8 L2143.6,1365.4 L2146.6,1366.1 L2149.6,1366.7 L2152.6,1367.2 L2155.6,1367.7 L2158.6,1368.2 L2161.6,1368.7 L2164.6,1369.1 L2167.6,1369.5 L2170.6,1369.9 L2173.6,1370.3 L2176.6,1370.6 L2179.6,1371.0 L2182.6,1371.3 L2185.6,1371.8 L2188.7,1372.3 L2191.7,1372.9 L2194.7,1373.3 L2197.7,1373.7 L2200.7,1374.0 L2203.7,1374.2 L2206.7,1374.3 L2209.7,1374.4 L2212.7,1374.4 L2215.7,1374.3 L2218.7,1374.3 L2221.7,1374.2 L2224.7,1374.2 L2227.7,1374.2 L2230.7,1374.2 L2233.7,1374.3 L2236.7,1374.7 L2239.7,1375.2 L2242.7,1375.8 L2245.8,1376.1 L2248.8,1375.9 L2251.8,1375.2 L2254.8,1374.4 L2257.8,1373.8 L2260.8,1373.7 L2263.8,1373.7 L2266.8,1373.6 L2269.8,1373.6 L2272.8,1373.6 L2275.8,1373.7 L2278.8,1373.8 L2281.8,1373.9 L2284.8,1374.0 L2287.8,1374.3 L2290.8,1374.5 L2293.8,1374.8 L2296.8,1375.2 L2299.8,1375.6 L2302.9,1376.0 L2305.9,1376.4 L2308.9,1376.8 L2311.9,1377.1 L2314.9,1377.4 L2317.9,1377.6 L2320.9,1377.7 L2323.9,1377.8 L2326.9,1377.8 L2329.9,1377.8 L2332.9,1377.7 L2335.9,1377.5 L2338.9,1377.2 L2341.9,1376.8 L2344.9,1376.4 L2347.9,1376.1 L2350.9,1375.7 L2353.9,1375.5 L2356.9,1375.3 L2360.0,1375.3 L2363.0,1375.2 L2366.0,1375.2 L2369.0,1375.2 L2372.0,1375.3 L2375.0,1375.4 L2378.0,1375.5 L2381.0,1375.7 L2384.0,1375.9 L2387.0,1376.1" stroke="#840064"/>
</g>
<g stroke="#000" stroke-width="4.0" fill="none" stroke-linecap="butt">
<rect x="100.4" y="32.4" width="1078.8" height="1372.0"/>
<line x1="100.4" y1="1404.4" x2="100.4" y2="1425.4" stroke-width="4.6"/>
<line x1="254.5" y1="1404.4" x2="254.5" y2="1425.4" stroke-width="4.6"/>
<line x1="408.6" y1="1404.4" x2="408.6" y2="1425.4" stroke-width="4.6"/>
<line x1="562.7" y1="1404.4" x2="562.7" y2="1425.4" stroke-width="4.6"/>
<line x1="716.9" y1="1404.4" x2="716.9" y2="1425.4" stroke-width="4.6"/>
<line x1="871.0" y1="1404.4" x2="871.0" y2="1425.4" stroke-width="4.6"/>
<line x1="1025.1" y1="1404.4" x2="1025.1" y2="1425.4" stroke-width="4.6"/>
<line x1="1179.2" y1="1404.4" x2="1179.2" y2="1425.4" stroke-width="4.6"/>
<line x1="177.5" y1="1404.4" x2="177.5" y2="1415.3" stroke-width="4.6"/>
<line x1="331.6" y1="1404.4" x2="331.6" y2="1415.3" stroke-width="4.6"/>
<line x1="485.7" y1="1404.4" x2="485.7" y2="1415.3" stroke-width="4.6"/>
<line x1="639.8" y1="1404.4" x2="639.8" y2="1415.3" stroke-width="4.6"/>
<line x1="793.9" y1="1404.4" x2="793.9" y2="1415.3" stroke-width="4.6"/>
<line x1="948.0" y1="1404.4" x2="948.0" y2="1415.3" stroke-width="4.6"/>
<line x1="1102.1" y1="1404.4" x2="1102.1" y2="1415.3" stroke-width="4.6"/>
</g>
<g stroke="#000" stroke-width="4.0" fill="none" stroke-linecap="butt">
<rect x="1308.0" y="32.4" width="1079.5" height="1372.0"/>
<line x1="1308.0" y1="1404.4" x2="1308.0" y2="1425.4" stroke-width="4.6"/>
<line x1="1523.9" y1="1404.4" x2="1523.9" y2="1425.4" stroke-width="4.6"/>
<line x1="1739.8" y1="1404.4" x2="1739.8" y2="1425.4" stroke-width="4.6"/>
<line x1="1955.7" y1="1404.4" x2="1955.7" y2="1425.4" stroke-width="4.6"/>
<line x1="2171.6" y1="1404.4" x2="2171.6" y2="1425.4" stroke-width="4.6"/>
<line x1="2387.5" y1="1404.4" x2="2387.5" y2="1425.4" stroke-width="4.6"/>
<line x1="1416.0" y1="1404.4" x2="1416.0" y2="1415.3" stroke-width="4.6"/>
<line x1="1631.8" y1="1404.4" x2="1631.8" y2="1415.3" stroke-width="4.6"/>
<line x1="1847.8" y1="1404.4" x2="1847.8" y2="1415.3" stroke-width="4.6"/>
<line x1="2063.7" y1="1404.4" x2="2063.7" y2="1415.3" stroke-width="4.6"/>
<line x1="2279.6" y1="1404.4" x2="2279.6" y2="1415.3" stroke-width="4.6"/>
</g>
<g class="a" font-size="43">
<text transform="translate(99.6,1470.2) scale(1,1.03)">21</text>
<text transform="translate(253.7,1470.2) scale(1,1.03)">20</text>
<text transform="translate(407.8,1470.2) scale(1,1.03)">19</text>
<text transform="translate(561.9,1470.2) scale(1,1.03)">18</text>
<text transform="translate(716.1,1470.2) scale(1,1.03)">17</text>
<text transform="translate(870.2,1470.2) scale(1,1.03)">16</text>
<text transform="translate(1024.3,1470.2) scale(1,1.03)">15</text>
<text transform="translate(1178.4,1470.2) scale(1,1.03)">14</text>
<text transform="translate(1307.2,1470.2) scale(1,1.03)">536</text>
<text transform="translate(1523.1,1470.2) scale(1,1.03)">534</text>
<text transform="translate(1739.0,1470.2) scale(1,1.03)">532</text>
<text transform="translate(1954.9,1470.2) scale(1,1.03)">530</text>
<text transform="translate(2170.8,1470.2) scale(1,1.03)">528</text>
<text transform="translate(2386.7,1470.2) scale(1,1.03)">526</text>
</g>
<g class="s" font-size="53">
<text transform="translate(119.3,91) scale(1.0,1.045)">Hf 4f</text>
<text transform="translate(307.8,98.5) scale(1.0,1.045)">Hf-O 4f5/2</text>
<text transform="translate(872.7,94.5) scale(1.0,1.045)">Hf-O 4f7/2</text>
<text transform="translate(1323.6,89.7) scale(1.0,1.045)">O 1s</text>
<text transform="translate(2021.6,108.9) scale(1.0,1.045)">Hf-O</text>
<text transform="translate(101.7,263.5) scale(0.982,1.045)">HfO<tspan font-size="30" dy="18.5">2</tspan><tspan dy="-18.5">-A</tspan></text>
<text transform="translate(101.7,526.9) scale(0.982,1.045)">HfO<tspan font-size="30" dy="18.5">2</tspan><tspan dy="-18.5">-B</tspan></text>
<text transform="translate(101.7,767.5) scale(0.982,1.045)">HfO<tspan font-size="30" dy="18.5">2</tspan><tspan dy="-18.5">-C</tspan></text>
<text transform="translate(104.7,1019.2) scale(0.982,1.045)">HfO<tspan font-size="30" dy="18.5">2</tspan><tspan dy="-18.5">-D</tspan></text>
<text transform="translate(101.7,1306.9) scale(0.982,1.045)">HfO<tspan font-size="30" dy="18.5">2</tspan><tspan dy="-18.5">-E</tspan></text>
<text transform="translate(1309.6,292.3) scale(0.982,1.045)">HfO<tspan font-size="30" dy="18.5">2</tspan><tspan dy="-18.5">-A</tspan></text>
<text transform="translate(1310.1,572.3) scale(0.982,1.045)">HfO<tspan font-size="30" dy="18.5">2</tspan><tspan dy="-18.5">-B</tspan></text>
<text transform="translate(1310.1,841.9) scale(0.982,1.045)">HfO<tspan font-size="30" dy="18.5">2</tspan><tspan dy="-18.5">-C</tspan></text>
<text transform="translate(1314.0,1072.2) scale(0.982,1.045)">HfO<tspan font-size="30" dy="18.5">2</tspan><tspan dy="-18.5">-D</tspan></text>
<text transform="translate(1310.6,1329.8) scale(0.982,1.045)">HfO<tspan font-size="30" dy="18.5">2</tspan><tspan dy="-18.5">-E</tspan></text>
<text transform="translate(1637.8,166) scale(1.0,1.045)">V<tspan font-size="30" dy="18.5">O</tspan></text>
<text transform="translate(439.3,1559.4) scale(1.0,1.045)" font-size="53">Binding Energy (eV)</text>
<text transform="translate(1670.8,1567.5) scale(1.0,1.045)" font-size="53">Binding Energy (eV)</text>
<text transform="translate(65.4,845.5) rotate(-90) scale(1.0,1.045)" font-size="53">Intensity(a.u.)</text>
</g>
<line x1="421.1" y1="113.7" x2="461.4" y2="159.5" stroke="#0000FF" stroke-width="5" stroke-linecap="round"/><polygon points="461.8,159.9 440.9,146.3 451.0,137.4" fill="#0000FF" stroke="#0000FF" stroke-width="2" stroke-linejoin="round"/>
<line x1="930.2" y1="106.4" x2="877.7" y2="148.7" stroke="#0000FF" stroke-width="5" stroke-linecap="round"/><polygon points="877.4,149.0 891.8,128.7 900.3,139.2" fill="#0000FF" stroke="#0000FF" stroke-width="2" stroke-linejoin="round"/>
<line x1="1690.6" y1="191.4" x2="1729.4" y2="238.0" stroke="#0000FF" stroke-width="5" stroke-linecap="round"/><polygon points="1729.7,238.4 1709.2,224.2 1719.5,215.6" fill="#0000FF" stroke="#0000FF" stroke-width="2" stroke-linejoin="round"/>
<line x1="2064.2" y1="115.1" x2="2009.6" y2="157.5" stroke="#0000FF" stroke-width="5" stroke-linecap="round"/><polygon points="2009.2,157.8 2024.0,137.7 2032.3,148.4" fill="#0000FF" stroke="#0000FF" stroke-width="2" stroke-linejoin="round"/>
</svg></body></html>
